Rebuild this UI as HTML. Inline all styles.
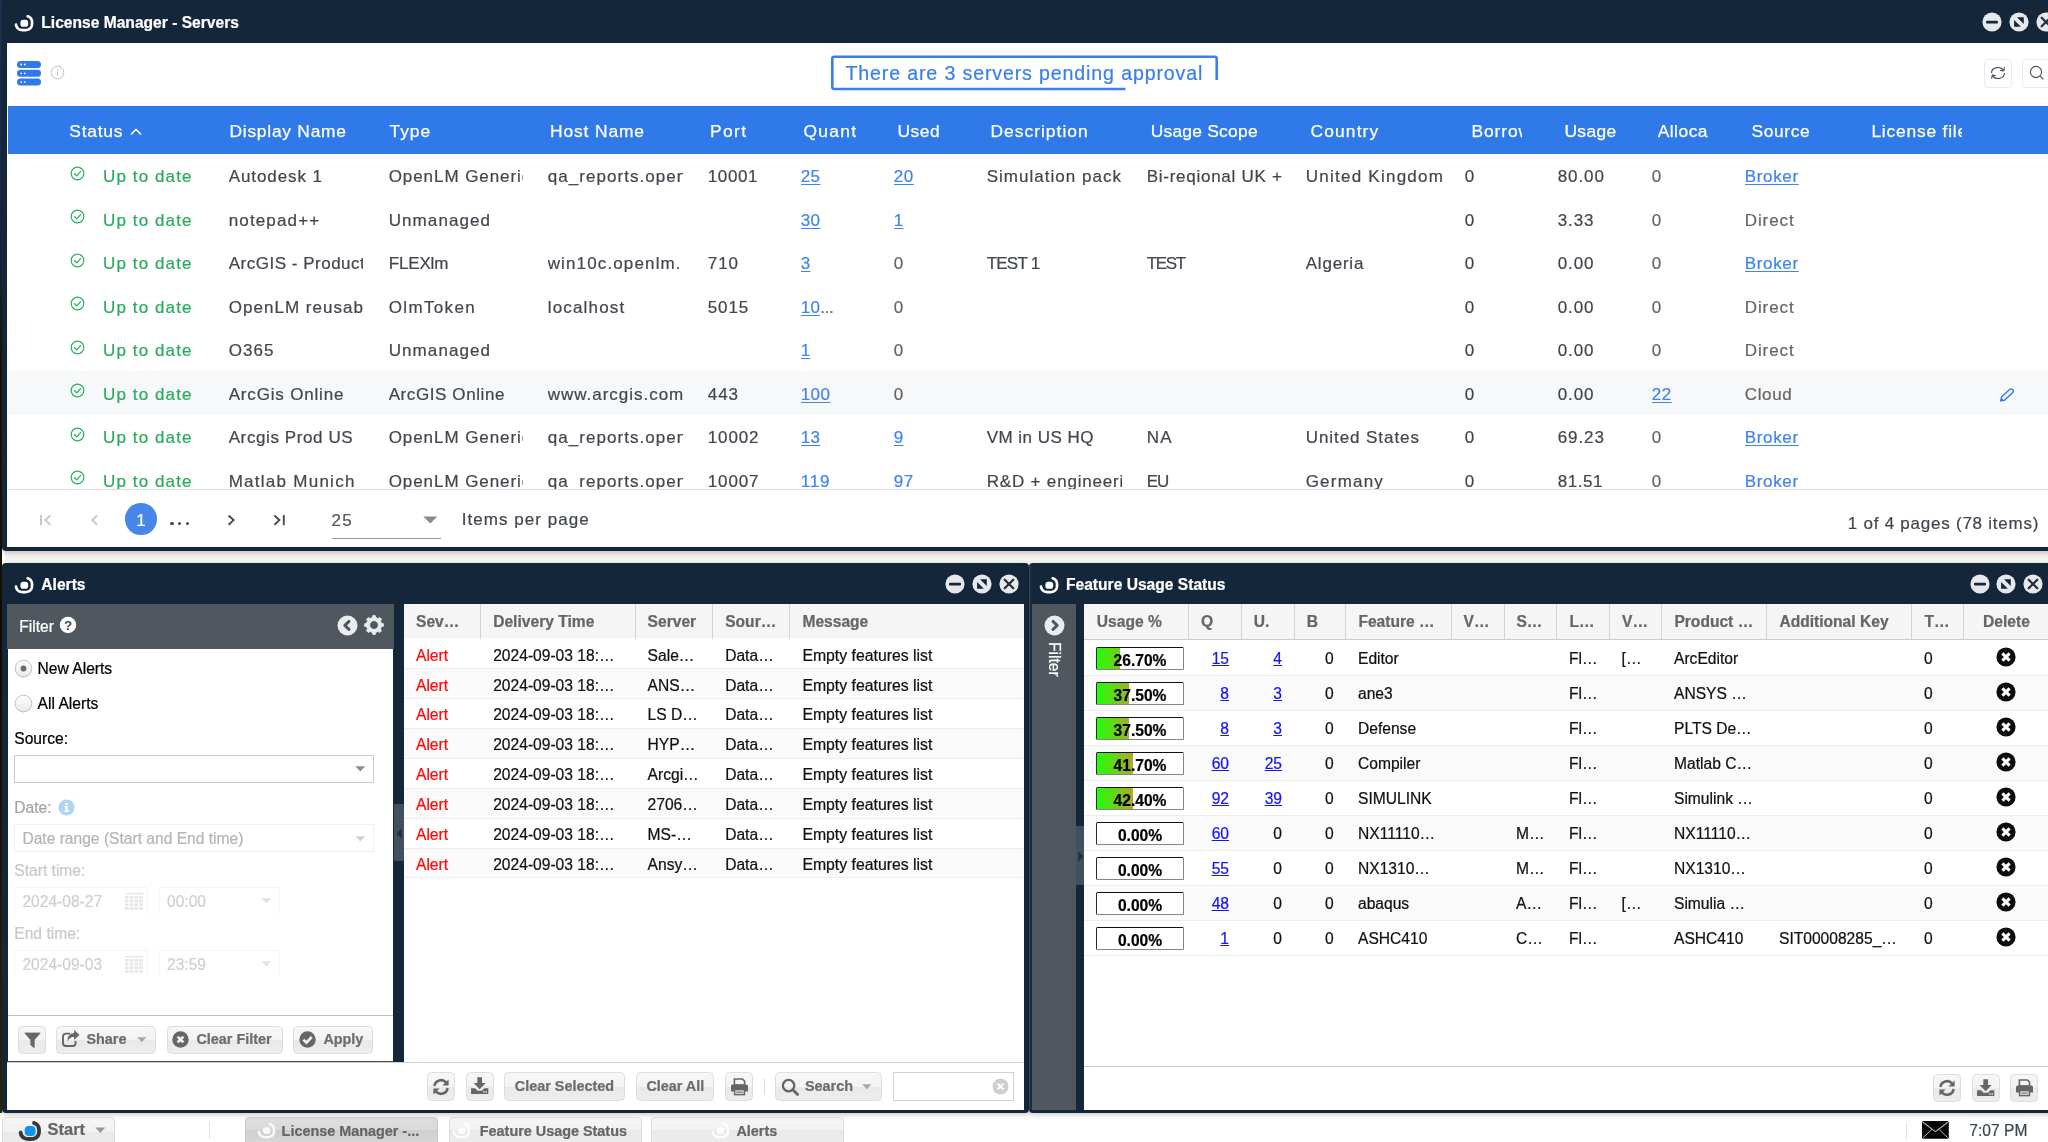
<!DOCTYPE html>
<html><head><meta charset="utf-8"><title>OpenLM</title>
<style>
html,body{margin:0;padding:0;overflow:hidden;}
body{width:2048px;height:1142px;overflow:hidden;position:relative;background:#f4f2ee;font-family:"Liberation Sans",sans-serif;}
div,span.t,svg{position:absolute;box-sizing:border-box;}
span.t{white-space:pre;-webkit-text-stroke:0.22px;}
a.l{text-decoration:underline;}
.btn{border:1px solid #dedede;border-radius:4.5px;background:linear-gradient(#f7f7f7 0%,#f3f3f3 50%,#e9e9e9 51%,#ededed 100%);}
#root{left:0;top:0;width:2048px;height:1142px;overflow:hidden;will-change:transform;}
</style></head><body><div id="root">

<div style="left:0px;top:0px;width:2.4px;height:1142px;background:linear-gradient(#1d3457 0%,#17263c 22%,#1a1404 32%,#120d02 60%,#231f06 85%,#2c2c0a 100%);"></div>
<div style="left:2px;top:548px;width:3px;height:16px;background:#fff;"></div>
<div style="left:0px;top:1112.9px;width:2048px;height:30px;background:#fff;"></div>
<div style="left:2px;top:-6px;width:2060px;height:557px;background:#13263a;border-radius:4px;box-shadow:0 2px 5px rgba(0,0,0,.2);"></div>
<div style="left:7px;top:43px;width:2050px;height:504px;background:#fff;"></div>
<div style="left:2px;top:562.5px;width:1026.5px;height:550.4px;background:#13263a;border-radius:4px;box-shadow:0 2px 5px rgba(0,0,0,.2);"></div>
<div style="left:1029px;top:562.5px;width:1040px;height:550.4px;background:#13263a;border-radius:4px;box-shadow:0 2px 5px rgba(0,0,0,.2);"></div>
<div style="left:1029px;top:566px;width:4px;height:544px;background:linear-gradient(90deg,#33414f 0,#33414f 1px,#1c2e41 1.5px,#13263a 4px);"></div>
<svg style="left:12.0px;top:10.600000000000001px;" width="24.0" height="24.0" viewBox="-12.0 -12.0 24.0 24.0"><path d="M -7.99 1.48 L -7.86 2.30 L -7.66 3.03 L -7.39 3.70 L -7.06 4.30 L -6.65 4.85 L -6.19 5.34 L -5.65 5.78 L -5.06 6.15 L -4.40 6.47 L -3.67 6.73 L -2.87 6.93 L -1.98 7.06 L -0.96 7.14 L 0.55 7.15 L 1.66 7.09 L 2.59 6.98 L 3.41 6.80 L 4.16 6.56 L 4.84 6.27 L 5.46 5.91 L 6.01 5.49 L 6.50 5.02 L 6.93 4.49 L 7.29 3.90 L 7.58 3.26 L 7.80 2.55 L 7.95 1.76 L 8.03 0.85 L 8.05 -0.49 L 7.99 -1.48 L 7.86 -2.30 L 7.66 -3.03 L 7.39 -3.70 L 7.06 -4.30 L 6.65 -4.85 L 6.19 -5.34 L 5.65 -5.78 L 5.06 -6.15 L 4.40 -6.47 L 3.67 -6.73" fill="none" stroke="#fff" stroke-width="2.65" stroke-linecap="round" stroke-linejoin="round"/><rect x="-3.60" y="-3.30" width="7.80" height="7.10" rx="2.90" fill="#fff"/></svg>
<span class="t" style="left:41.3px;top:15.00px;font-size:15.6px;line-height:15.6px;color:#fff;font-weight:700;">License Manager - Servers</span>
<svg style="left:1981.3px;top:11.399999999999999px;" width="22" height="22" viewBox="-11 -11 22 22"><circle cx="0" cy="0" r="9.6" fill="#e6e8eb"/><rect x="-6" y="-1.2" width="12" height="2.6" rx="1" fill="#13263a"/></svg>
<svg style="left:2008px;top:11.399999999999999px;" width="22" height="22" viewBox="-11 -11 22 22"><circle cx="0" cy="0" r="9.6" fill="#e6e8eb"/><path d="M -2.0 -4.7 L 4.8 -4.7 L 4.8 2.1 Z M -4.9 -1.9 L -4.9 4.8 L 1.9 4.8 Z" fill="#13263a" /></svg>
<svg style="left:2034.7px;top:11.399999999999999px;" width="22" height="22" viewBox="-11 -11 22 22"><circle cx="0" cy="0" r="9.6" fill="#e6e8eb"/><path d="M -4.3 -4.3 L 4.3 4.3 M 4.3 -4.3 L -4.3 4.3" stroke="#1d2f43" stroke-width="2.25" stroke-linecap="round"/></svg>
<svg style="left:17px;top:61px;" width="24" height="25" viewBox="0 0 24 25"><rect x="0" y="0" width="24" height="7" rx="3.5" fill="#2f7ae8"/><circle cx="4.2" cy="3.5" r="0.9" fill="#fff"/><circle cx="7.8" cy="3.5" r="0.9" fill="#fff"/><rect x="0" y="8.8" width="24" height="7" rx="3.5" fill="#2f7ae8"/><circle cx="4.2" cy="12.3" r="0.9" fill="#fff"/><circle cx="7.8" cy="12.3" r="0.9" fill="#fff"/><rect x="0" y="17.6" width="24" height="7" rx="3.5" fill="#2f7ae8"/><circle cx="4.2" cy="21.1" r="0.9" fill="#fff"/><circle cx="7.8" cy="21.1" r="0.9" fill="#fff"/></svg>
<svg style="left:50px;top:65px;" width="15" height="15" viewBox="0 0 15 15"><circle cx="7.5" cy="7.5" r="6.3" fill="none" stroke="#b5bac2" stroke-width="0.9"/><rect x="7" y="6.6" width="1" height="4" fill="#b5bac2"/><rect x="7" y="4.4" width="1" height="1.2" fill="#b5bac2"/></svg>
<svg style="left:828px;top:52px;" width="394" height="42" viewBox="0 0 394 42"><path d="M 297.5 37.0 L 6.3 37.0 Q 4.3 37.0 4.3 35.0 L 4.3 6.8 Q 4.3 4.8 6.3 4.8 L 386.7 4.8 Q 388.7 4.8 388.7 6.8 L 388.7 28" fill="none" stroke="#3a80e8" stroke-width="2.6"/></svg>
<span class="t" style="left:845.4px;top:64.00px;font-size:19.6px;line-height:19.6px;color:#3a80e8;letter-spacing:0.863px;">There are 3 servers pending approval</span>
<div style="left:1983.8px;top:59.2px;width:28.6px;height:28.6px;border:1px solid #e4ecf7;border-radius:4px;background:#fff;"></div>
<svg style="left:1990px;top:65px;" width="16" height="16" viewBox="0 0 16 16"><g fill="none" stroke="#4a4f57" stroke-width="1.1" stroke-linecap="round" stroke-linejoin="round"><path d="M 1.6 7.4 A 6.2 5 0 0 1 13.4 5.4"/><path d="M 14.3 2.6 L 13.8 5.9 L 10.4 5.5"/><path d="M 14.4 8.6 A 6.2 5 0 0 1 2.6 10.6"/><path d="M 1.7 13.4 L 2.2 10.1 L 5.6 10.5"/></g></svg>
<div style="left:2022.3px;top:59.2px;width:40px;height:28.6px;border:1px solid #e4ecf7;border-radius:4px;background:#fff;"></div>
<svg style="left:2028px;top:64px;" width="18" height="18" viewBox="0 0 18 18"><g fill="none" stroke="#4a4f57" stroke-width="1.1" stroke-linecap="round"><circle cx="8" cy="8" r="5.6"/><path d="M 12.2 12.2 L 15 15"/></g></svg>
<div style="left:8px;top:105.7px;width:2050px;height:47.9px;background:#2f7ae8;"></div>
<span class="t" style="left:69.3px;top:123.00px;font-size:17.4px;line-height:17.4px;color:#fff;letter-spacing:0.778px;-webkit-text-stroke:0.25px #fff;">Status</span>
<span class="t" style="left:229.5px;top:123.00px;font-size:17.4px;line-height:17.4px;color:#fff;letter-spacing:0.75px;-webkit-text-stroke:0.25px #fff;">Display Name</span>
<span class="t" style="left:389.5px;top:123.00px;font-size:17.4px;line-height:17.4px;color:#fff;letter-spacing:0.967px;-webkit-text-stroke:0.25px #fff;">Type</span>
<span class="t" style="left:550.1px;top:123.00px;font-size:17.4px;line-height:17.4px;color:#fff;letter-spacing:0.865px;-webkit-text-stroke:0.25px #fff;">Host Name</span>
<span class="t" style="left:710.1px;top:123.00px;font-size:17.4px;line-height:17.4px;color:#fff;letter-spacing:1.333px;-webkit-text-stroke:0.25px #fff;">Port</span>
<span class="t" style="left:803.4000000000001px;top:123.00px;font-size:17.4px;line-height:17.4px;color:#fff;letter-spacing:1.307px;width:52.3px;overflow:hidden;-webkit-text-stroke:0.25px #fff;height:22px;">Quantity</span>
<span class="t" style="left:897.4000000000001px;top:123.00px;font-size:17.4px;line-height:17.4px;color:#fff;letter-spacing:0.565px;-webkit-text-stroke:0.25px #fff;">Used</span>
<span class="t" style="left:990.4000000000001px;top:123.00px;font-size:17.4px;line-height:17.4px;color:#fff;letter-spacing:1.03px;-webkit-text-stroke:0.25px #fff;">Description</span>
<span class="t" style="left:1150.7px;top:123.00px;font-size:17.4px;line-height:17.4px;color:#fff;letter-spacing:0.248px;-webkit-text-stroke:0.25px #fff;">Usage Scope</span>
<span class="t" style="left:1310.6000000000001px;top:123.00px;font-size:17.4px;line-height:17.4px;color:#fff;letter-spacing:1.116px;-webkit-text-stroke:0.25px #fff;">Country</span>
<span class="t" style="left:1471.4px;top:123.00px;font-size:17.4px;line-height:17.4px;color:#fff;letter-spacing:0.918px;width:51px;overflow:hidden;-webkit-text-stroke:0.25px #fff;height:22px;">Borrowed</span>
<span class="t" style="left:1564.4px;top:123.00px;font-size:17.4px;line-height:17.4px;color:#fff;letter-spacing:0.406px;-webkit-text-stroke:0.25px #fff;">Usage</span>
<span class="t" style="left:1657.7px;top:123.00px;font-size:17.4px;line-height:17.4px;color:#fff;letter-spacing:0.486px;width:50.5px;overflow:hidden;-webkit-text-stroke:0.25px #fff;height:22px;">Allocated</span>
<span class="t" style="left:1751.4px;top:123.00px;font-size:17.4px;line-height:17.4px;color:#fff;letter-spacing:0.639px;-webkit-text-stroke:0.25px #fff;">Source</span>
<span class="t" style="left:1871.4px;top:123.00px;font-size:17.4px;line-height:17.4px;color:#fff;letter-spacing:0.796px;width:90.3px;overflow:hidden;-webkit-text-stroke:0.25px #fff;height:22px;">License file</span>
<svg style="left:130px;top:127px;" width="12" height="9" viewBox="0 0 12 9"><path d="M 1.5 7 L 6 2.3 L 10.5 7" fill="none" stroke="#fff" stroke-width="1.6" stroke-linecap="round" stroke-linejoin="round"/></svg>
<div style="left:8px;top:153px;width:2044px;height:336px;overflow:hidden;">
<svg style="left:62px;top:12.799999999999999px;" width="15" height="15" viewBox="0 0 15 15"><circle cx="7.5" cy="7.5" r="6.3" fill="none" stroke="#2bb061" stroke-width="1.2"/><path d="M 4.6 7.7 L 6.8 9.9 L 10.5 5.6" fill="none" stroke="#2bb061" stroke-width="1.3" stroke-linecap="round" stroke-linejoin="round"/></svg>
<span class="t" style="left:95.0px;top:15.00px;font-size:17px;line-height:17px;color:#2bab5e;letter-spacing:1.114px;">Up to date</span>
<span class="t" style="left:220.7px;top:15.00px;font-size:17px;line-height:17px;color:#42474f;letter-spacing:0.913px;width:134.5px;overflow:hidden;height:24px;">Autodesk 1</span>
<span class="t" style="left:380.7px;top:15.00px;font-size:17px;line-height:17px;color:#42474f;letter-spacing:0.935px;width:134.5px;overflow:hidden;height:24px;">OpenLM Generic</span>
<span class="t" style="left:539.7px;top:15.00px;font-size:17px;line-height:17px;color:#42474f;letter-spacing:1.053px;width:135px;overflow:hidden;height:24px;">qa_reports.openlm</span>
<span class="t" style="left:699.7px;top:15.00px;font-size:17px;line-height:17px;color:#42474f;letter-spacing:0.648px;width:70px;overflow:hidden;height:24px;">10001</span>
<span class="t" style="left:792.7px;top:15.00px;font-size:17px;line-height:17px;color:#4284ee;letter-spacing:0.439px;width:70px;overflow:hidden;text-decoration:underline;text-decoration-thickness:1.4px;text-underline-offset:1.9px;height:24px;">25</span>
<span class="t" style="left:885.7px;top:15.00px;font-size:17px;line-height:17px;color:#4284ee;letter-spacing:0.639px;width:70px;overflow:hidden;text-decoration:underline;text-decoration-thickness:1.4px;text-underline-offset:1.9px;height:24px;">20</span>
<span class="t" style="left:978.7px;top:15.00px;font-size:17px;line-height:17px;color:#42474f;letter-spacing:1.019px;width:135px;overflow:hidden;height:24px;">Simulation pack</span>
<span class="t" style="left:1138.7px;top:15.00px;font-size:17px;line-height:17px;color:#42474f;letter-spacing:0.734px;width:136px;overflow:hidden;height:24px;">Bi-reqional UK +</span>
<span class="t" style="left:1297.7px;top:15.00px;font-size:17px;line-height:17px;color:#42474f;letter-spacing:1.254px;width:140px;overflow:hidden;height:24px;">United Kingdom</span>
<span class="t" style="left:1456.7px;top:15.00px;font-size:17px;line-height:17px;color:#42474f;letter-spacing:0.3px;width:70px;overflow:hidden;height:24px;">0</span>
<span class="t" style="left:1549.7px;top:15.00px;font-size:17px;line-height:17px;color:#42474f;letter-spacing:0.907px;width:70px;overflow:hidden;height:24px;">80.00</span>
<span class="t" style="left:1643.7px;top:15.00px;font-size:17px;line-height:17px;color:#666;letter-spacing:0.3px;width:70px;overflow:hidden;height:24px;">0</span>
<span class="t" style="left:1736.7px;top:15.00px;font-size:17px;line-height:17px;color:#4284ee;letter-spacing:0.67px;width:100px;overflow:hidden;text-decoration:underline;text-decoration-thickness:1.4px;text-underline-offset:1.9px;height:24px;">Broker</span>
<svg style="left:62px;top:56.3px;" width="15" height="15" viewBox="0 0 15 15"><circle cx="7.5" cy="7.5" r="6.3" fill="none" stroke="#2bb061" stroke-width="1.2"/><path d="M 4.6 7.7 L 6.8 9.9 L 10.5 5.6" fill="none" stroke="#2bb061" stroke-width="1.3" stroke-linecap="round" stroke-linejoin="round"/></svg>
<span class="t" style="left:95.0px;top:59.00px;font-size:17px;line-height:17px;color:#2bab5e;letter-spacing:1.114px;">Up to date</span>
<span class="t" style="left:220.7px;top:59.00px;font-size:17px;line-height:17px;color:#42474f;letter-spacing:1.145px;width:134.5px;overflow:hidden;height:24px;">notepad++</span>
<span class="t" style="left:380.7px;top:59.00px;font-size:17px;line-height:17px;color:#42474f;letter-spacing:1.094px;width:134.5px;overflow:hidden;height:24px;">Unmanaged</span>
<span class="t" style="left:792.7px;top:59.00px;font-size:17px;line-height:17px;color:#4284ee;letter-spacing:0.439px;width:70px;overflow:hidden;text-decoration:underline;text-decoration-thickness:1.4px;text-underline-offset:1.9px;height:24px;">30</span>
<span class="t" style="left:885.7px;top:59.00px;font-size:17px;line-height:17px;color:#4284ee;letter-spacing:0.3px;width:70px;overflow:hidden;text-decoration:underline;text-decoration-thickness:1.4px;text-underline-offset:1.9px;height:24px;">1</span>
<span class="t" style="left:1456.7px;top:59.00px;font-size:17px;line-height:17px;color:#42474f;letter-spacing:0.3px;width:70px;overflow:hidden;height:24px;">0</span>
<span class="t" style="left:1549.7px;top:59.00px;font-size:17px;line-height:17px;color:#42474f;letter-spacing:0.894px;width:70px;overflow:hidden;height:24px;">3.33</span>
<span class="t" style="left:1643.7px;top:59.00px;font-size:17px;line-height:17px;color:#666;letter-spacing:0.3px;width:70px;overflow:hidden;height:24px;">0</span>
<span class="t" style="left:1736.7px;top:59.00px;font-size:17px;line-height:17px;color:#666;letter-spacing:0.914px;width:100px;overflow:hidden;height:24px;">Direct</span>
<svg style="left:62px;top:99.8px;" width="15" height="15" viewBox="0 0 15 15"><circle cx="7.5" cy="7.5" r="6.3" fill="none" stroke="#2bb061" stroke-width="1.2"/><path d="M 4.6 7.7 L 6.8 9.9 L 10.5 5.6" fill="none" stroke="#2bb061" stroke-width="1.3" stroke-linecap="round" stroke-linejoin="round"/></svg>
<span class="t" style="left:95.0px;top:102.00px;font-size:17px;line-height:17px;color:#2bab5e;letter-spacing:1.114px;">Up to date</span>
<span class="t" style="left:220.7px;top:102.00px;font-size:17px;line-height:17px;color:#42474f;letter-spacing:0.508px;width:134.5px;overflow:hidden;height:24px;">ArcGIS - Production</span>
<span class="t" style="left:380.7px;top:102.00px;font-size:17px;line-height:17px;color:#42474f;letter-spacing:-0.159px;width:134.5px;overflow:hidden;height:24px;">FLEXlm</span>
<span class="t" style="left:539.7px;top:102.00px;font-size:17px;line-height:17px;color:#42474f;letter-spacing:1.135px;width:135px;overflow:hidden;height:24px;">win10c.openlm.</span>
<span class="t" style="left:699.7px;top:102.00px;font-size:17px;line-height:17px;color:#42474f;letter-spacing:1.0px;width:70px;overflow:hidden;height:24px;">710</span>
<span class="t" style="left:792.7px;top:102.00px;font-size:17px;line-height:17px;color:#4284ee;letter-spacing:0.3px;width:70px;overflow:hidden;text-decoration:underline;text-decoration-thickness:1.4px;text-underline-offset:1.9px;height:24px;">3</span>
<span class="t" style="left:885.7px;top:102.00px;font-size:17px;line-height:17px;color:#666;letter-spacing:0.3px;width:70px;overflow:hidden;height:24px;">0</span>
<span class="t" style="left:978.7px;top:102.00px;font-size:17px;line-height:17px;color:#42474f;letter-spacing:-0.771px;width:135px;overflow:hidden;height:24px;">TEST 1</span>
<span class="t" style="left:1138.7px;top:102.00px;font-size:17px;line-height:17px;color:#42474f;letter-spacing:-1.293px;width:136px;overflow:hidden;height:24px;">TEST</span>
<span class="t" style="left:1297.7px;top:102.00px;font-size:17px;line-height:17px;color:#42474f;letter-spacing:0.792px;width:140px;overflow:hidden;height:24px;">Algeria</span>
<span class="t" style="left:1456.7px;top:102.00px;font-size:17px;line-height:17px;color:#42474f;letter-spacing:0.3px;width:70px;overflow:hidden;height:24px;">0</span>
<span class="t" style="left:1549.7px;top:102.00px;font-size:17px;line-height:17px;color:#42474f;letter-spacing:0.894px;width:70px;overflow:hidden;height:24px;">0.00</span>
<span class="t" style="left:1643.7px;top:102.00px;font-size:17px;line-height:17px;color:#666;letter-spacing:0.3px;width:70px;overflow:hidden;height:24px;">0</span>
<span class="t" style="left:1736.7px;top:102.00px;font-size:17px;line-height:17px;color:#4284ee;letter-spacing:0.67px;width:100px;overflow:hidden;text-decoration:underline;text-decoration-thickness:1.4px;text-underline-offset:1.9px;height:24px;">Broker</span>
<svg style="left:62px;top:143.29999999999998px;" width="15" height="15" viewBox="0 0 15 15"><circle cx="7.5" cy="7.5" r="6.3" fill="none" stroke="#2bb061" stroke-width="1.2"/><path d="M 4.6 7.7 L 6.8 9.9 L 10.5 5.6" fill="none" stroke="#2bb061" stroke-width="1.3" stroke-linecap="round" stroke-linejoin="round"/></svg>
<span class="t" style="left:95.0px;top:146.00px;font-size:17px;line-height:17px;color:#2bab5e;letter-spacing:1.114px;">Up to date</span>
<span class="t" style="left:220.7px;top:146.00px;font-size:17px;line-height:17px;color:#42474f;letter-spacing:1.031px;width:134.5px;overflow:hidden;height:24px;">OpenLM reusab</span>
<span class="t" style="left:380.7px;top:146.00px;font-size:17px;line-height:17px;color:#42474f;letter-spacing:1.349px;width:134.5px;overflow:hidden;height:24px;">OlmToken</span>
<span class="t" style="left:539.7px;top:146.00px;font-size:17px;line-height:17px;color:#42474f;letter-spacing:1.171px;width:135px;overflow:hidden;height:24px;">localhost</span>
<span class="t" style="left:699.7px;top:146.00px;font-size:17px;line-height:17px;color:#42474f;letter-spacing:0.916px;width:70px;overflow:hidden;height:24px;">5015</span>
<span class="t" style="left:792.7px;top:146.00px;font-size:17px;line-height:17px;color:#666;letter-spacing:0.3px;"><span style="color:#4284ee;text-decoration:underline;text-decoration-thickness:1.4px;text-underline-offset:1.9px">10</span><span style="letter-spacing:-0.3px">...</span></span>
<span class="t" style="left:885.7px;top:146.00px;font-size:17px;line-height:17px;color:#666;letter-spacing:0.3px;width:70px;overflow:hidden;height:24px;">0</span>
<span class="t" style="left:1456.7px;top:146.00px;font-size:17px;line-height:17px;color:#42474f;letter-spacing:0.3px;width:70px;overflow:hidden;height:24px;">0</span>
<span class="t" style="left:1549.7px;top:146.00px;font-size:17px;line-height:17px;color:#42474f;letter-spacing:0.894px;width:70px;overflow:hidden;height:24px;">0.00</span>
<span class="t" style="left:1643.7px;top:146.00px;font-size:17px;line-height:17px;color:#666;letter-spacing:0.3px;width:70px;overflow:hidden;height:24px;">0</span>
<span class="t" style="left:1736.7px;top:146.00px;font-size:17px;line-height:17px;color:#666;letter-spacing:0.914px;width:100px;overflow:hidden;height:24px;">Direct</span>
<svg style="left:62px;top:186.79999999999998px;" width="15" height="15" viewBox="0 0 15 15"><circle cx="7.5" cy="7.5" r="6.3" fill="none" stroke="#2bb061" stroke-width="1.2"/><path d="M 4.6 7.7 L 6.8 9.9 L 10.5 5.6" fill="none" stroke="#2bb061" stroke-width="1.3" stroke-linecap="round" stroke-linejoin="round"/></svg>
<span class="t" style="left:95.0px;top:189.00px;font-size:17px;line-height:17px;color:#2bab5e;letter-spacing:1.114px;">Up to date</span>
<span class="t" style="left:220.7px;top:189.00px;font-size:17px;line-height:17px;color:#42474f;letter-spacing:1.027px;width:134.5px;overflow:hidden;height:24px;">O365</span>
<span class="t" style="left:380.7px;top:189.00px;font-size:17px;line-height:17px;color:#42474f;letter-spacing:1.094px;width:134.5px;overflow:hidden;height:24px;">Unmanaged</span>
<span class="t" style="left:792.7px;top:189.00px;font-size:17px;line-height:17px;color:#4284ee;letter-spacing:0.3px;width:70px;overflow:hidden;text-decoration:underline;text-decoration-thickness:1.4px;text-underline-offset:1.9px;height:24px;">1</span>
<span class="t" style="left:885.7px;top:189.00px;font-size:17px;line-height:17px;color:#666;letter-spacing:0.3px;width:70px;overflow:hidden;height:24px;">0</span>
<span class="t" style="left:1456.7px;top:189.00px;font-size:17px;line-height:17px;color:#42474f;letter-spacing:0.3px;width:70px;overflow:hidden;height:24px;">0</span>
<span class="t" style="left:1549.7px;top:189.00px;font-size:17px;line-height:17px;color:#42474f;letter-spacing:0.894px;width:70px;overflow:hidden;height:24px;">0.00</span>
<span class="t" style="left:1643.7px;top:189.00px;font-size:17px;line-height:17px;color:#666;letter-spacing:0.3px;width:70px;overflow:hidden;height:24px;">0</span>
<span class="t" style="left:1736.7px;top:189.00px;font-size:17px;line-height:17px;color:#666;letter-spacing:0.914px;width:100px;overflow:hidden;height:24px;">Direct</span>
<div style="left:0px;top:218.1px;width:2044px;height:43.5px;background:#f7f8fa;"></div>
<svg style="left:62px;top:230.29999999999998px;" width="15" height="15" viewBox="0 0 15 15"><circle cx="7.5" cy="7.5" r="6.3" fill="none" stroke="#2bb061" stroke-width="1.2"/><path d="M 4.6 7.7 L 6.8 9.9 L 10.5 5.6" fill="none" stroke="#2bb061" stroke-width="1.3" stroke-linecap="round" stroke-linejoin="round"/></svg>
<span class="t" style="left:95.0px;top:233.00px;font-size:17px;line-height:17px;color:#2bab5e;letter-spacing:1.114px;">Up to date</span>
<span class="t" style="left:220.7px;top:233.00px;font-size:17px;line-height:17px;color:#42474f;letter-spacing:0.825px;width:134.5px;overflow:hidden;height:24px;">ArcGis Online</span>
<span class="t" style="left:380.7px;top:233.00px;font-size:17px;line-height:17px;color:#42474f;letter-spacing:0.593px;width:134.5px;overflow:hidden;height:24px;">ArcGIS Online</span>
<span class="t" style="left:539.7px;top:233.00px;font-size:17px;line-height:17px;color:#42474f;letter-spacing:0.982px;width:135px;overflow:hidden;height:24px;">www.arcgis.com</span>
<span class="t" style="left:699.7px;top:233.00px;font-size:17px;line-height:17px;color:#42474f;letter-spacing:1.0px;width:70px;overflow:hidden;height:24px;">443</span>
<span class="t" style="left:792.7px;top:233.00px;font-size:17px;line-height:17px;color:#4284ee;letter-spacing:0.442px;width:70px;overflow:hidden;text-decoration:underline;text-decoration-thickness:1.4px;text-underline-offset:1.9px;height:24px;">100</span>
<span class="t" style="left:885.7px;top:233.00px;font-size:17px;line-height:17px;color:#666;letter-spacing:0.3px;width:70px;overflow:hidden;height:24px;">0</span>
<span class="t" style="left:1456.7px;top:233.00px;font-size:17px;line-height:17px;color:#42474f;letter-spacing:0.3px;width:70px;overflow:hidden;height:24px;">0</span>
<span class="t" style="left:1549.7px;top:233.00px;font-size:17px;line-height:17px;color:#42474f;letter-spacing:0.894px;width:70px;overflow:hidden;height:24px;">0.00</span>
<span class="t" style="left:1643.7px;top:233.00px;font-size:17px;line-height:17px;color:#4284ee;letter-spacing:0.539px;width:70px;overflow:hidden;text-decoration:underline;text-decoration-thickness:1.4px;text-underline-offset:1.9px;height:24px;">22</span>
<span class="t" style="left:1736.7px;top:233.00px;font-size:17px;line-height:17px;color:#666;letter-spacing:0.663px;width:100px;overflow:hidden;height:24px;">Cloud</span>
<svg style="left:1989px;top:232.29999999999998px;" width="20" height="20" viewBox="-10 -10 20 20"><g transform="rotate(-43)"><path d="M -5.4 -2.2 H 5.6 A 2.2 2.2 0 0 1 5.6 2.2 H -5.4 L -8.6 0 Z" fill="none" stroke="#2f76e6" stroke-width="1.35" stroke-linejoin="round"/><path d="M -5.9 -1.9 L -8.9 0 L -5.9 1.9 Z" fill="#2f76e6"/></g></svg>
<svg style="left:62px;top:273.8px;" width="15" height="15" viewBox="0 0 15 15"><circle cx="7.5" cy="7.5" r="6.3" fill="none" stroke="#2bb061" stroke-width="1.2"/><path d="M 4.6 7.7 L 6.8 9.9 L 10.5 5.6" fill="none" stroke="#2bb061" stroke-width="1.3" stroke-linecap="round" stroke-linejoin="round"/></svg>
<span class="t" style="left:95.0px;top:276.00px;font-size:17px;line-height:17px;color:#2bab5e;letter-spacing:1.114px;">Up to date</span>
<span class="t" style="left:220.7px;top:276.00px;font-size:17px;line-height:17px;color:#42474f;letter-spacing:0.598px;width:134.5px;overflow:hidden;height:24px;">Arcgis Prod US</span>
<span class="t" style="left:380.7px;top:276.00px;font-size:17px;line-height:17px;color:#42474f;letter-spacing:0.935px;width:134.5px;overflow:hidden;height:24px;">OpenLM Generic</span>
<span class="t" style="left:539.7px;top:276.00px;font-size:17px;line-height:17px;color:#42474f;letter-spacing:1.053px;width:135px;overflow:hidden;height:24px;">qa_reports.openlm</span>
<span class="t" style="left:699.7px;top:276.00px;font-size:17px;line-height:17px;color:#42474f;letter-spacing:0.898px;width:70px;overflow:hidden;height:24px;">10002</span>
<span class="t" style="left:792.7px;top:276.00px;font-size:17px;line-height:17px;color:#4284ee;letter-spacing:0.439px;width:70px;overflow:hidden;text-decoration:underline;text-decoration-thickness:1.4px;text-underline-offset:1.9px;height:24px;">13</span>
<span class="t" style="left:885.7px;top:276.00px;font-size:17px;line-height:17px;color:#4284ee;letter-spacing:0.3px;width:70px;overflow:hidden;text-decoration:underline;text-decoration-thickness:1.4px;text-underline-offset:1.9px;height:24px;">9</span>
<span class="t" style="left:978.7px;top:276.00px;font-size:17px;line-height:17px;color:#42474f;letter-spacing:0.484px;width:135px;overflow:hidden;height:24px;">VM in US HQ</span>
<span class="t" style="left:1138.7px;top:276.00px;font-size:17px;line-height:17px;color:#42474f;letter-spacing:1.25px;width:136px;overflow:hidden;height:24px;">NA</span>
<span class="t" style="left:1297.7px;top:276.00px;font-size:17px;line-height:17px;color:#42474f;letter-spacing:0.934px;width:140px;overflow:hidden;height:24px;">United States</span>
<span class="t" style="left:1456.7px;top:276.00px;font-size:17px;line-height:17px;color:#42474f;letter-spacing:0.3px;width:70px;overflow:hidden;height:24px;">0</span>
<span class="t" style="left:1549.7px;top:276.00px;font-size:17px;line-height:17px;color:#42474f;letter-spacing:0.907px;width:70px;overflow:hidden;height:24px;">69.23</span>
<span class="t" style="left:1643.7px;top:276.00px;font-size:17px;line-height:17px;color:#666;letter-spacing:0.3px;width:70px;overflow:hidden;height:24px;">0</span>
<span class="t" style="left:1736.7px;top:276.00px;font-size:17px;line-height:17px;color:#4284ee;letter-spacing:0.67px;width:100px;overflow:hidden;text-decoration:underline;text-decoration-thickness:1.4px;text-underline-offset:1.9px;height:24px;">Broker</span>
<svg style="left:62px;top:317.3px;" width="15" height="15" viewBox="0 0 15 15"><circle cx="7.5" cy="7.5" r="6.3" fill="none" stroke="#2bb061" stroke-width="1.2"/><path d="M 4.6 7.7 L 6.8 9.9 L 10.5 5.6" fill="none" stroke="#2bb061" stroke-width="1.3" stroke-linecap="round" stroke-linejoin="round"/></svg>
<span class="t" style="left:95.0px;top:320.00px;font-size:17px;line-height:17px;color:#2bab5e;letter-spacing:1.114px;">Up to date</span>
<span class="t" style="left:220.7px;top:320.00px;font-size:17px;line-height:17px;color:#42474f;letter-spacing:1.259px;width:134.5px;overflow:hidden;height:24px;">Matlab Munich</span>
<span class="t" style="left:380.7px;top:320.00px;font-size:17px;line-height:17px;color:#42474f;letter-spacing:0.935px;width:134.5px;overflow:hidden;height:24px;">OpenLM Generic</span>
<span class="t" style="left:539.7px;top:320.00px;font-size:17px;line-height:17px;color:#42474f;letter-spacing:1.053px;width:135px;overflow:hidden;height:24px;">qa_reports.openlm</span>
<span class="t" style="left:699.7px;top:320.00px;font-size:17px;line-height:17px;color:#42474f;letter-spacing:0.898px;width:70px;overflow:hidden;height:24px;">10007</span>
<span class="t" style="left:792.7px;top:320.00px;font-size:17px;line-height:17px;color:#4284ee;letter-spacing:0.864px;width:70px;overflow:hidden;text-decoration:underline;text-decoration-thickness:1.4px;text-underline-offset:1.9px;height:24px;">119</span>
<span class="t" style="left:885.7px;top:320.00px;font-size:17px;line-height:17px;color:#4284ee;letter-spacing:0.639px;width:70px;overflow:hidden;text-decoration:underline;text-decoration-thickness:1.4px;text-underline-offset:1.9px;height:24px;">97</span>
<span class="t" style="left:978.7px;top:320.00px;font-size:17px;line-height:17px;color:#42474f;letter-spacing:0.818px;width:135px;overflow:hidden;height:24px;">R&amp;D + engineering</span>
<span class="t" style="left:1138.7px;top:320.00px;font-size:17px;line-height:17px;color:#42474f;letter-spacing:-1.15px;width:136px;overflow:hidden;height:24px;">EU</span>
<span class="t" style="left:1297.7px;top:320.00px;font-size:17px;line-height:17px;color:#42474f;letter-spacing:1.209px;width:140px;overflow:hidden;height:24px;">Germany</span>
<span class="t" style="left:1456.7px;top:320.00px;font-size:17px;line-height:17px;color:#42474f;letter-spacing:0.3px;width:70px;overflow:hidden;height:24px;">0</span>
<span class="t" style="left:1549.7px;top:320.00px;font-size:17px;line-height:17px;color:#42474f;letter-spacing:0.532px;width:70px;overflow:hidden;height:24px;">81.51</span>
<span class="t" style="left:1643.7px;top:320.00px;font-size:17px;line-height:17px;color:#666;letter-spacing:0.3px;width:70px;overflow:hidden;height:24px;">0</span>
<span class="t" style="left:1736.7px;top:320.00px;font-size:17px;line-height:17px;color:#4284ee;letter-spacing:0.67px;width:100px;overflow:hidden;text-decoration:underline;text-decoration-thickness:1.4px;text-underline-offset:1.9px;height:24px;">Broker</span>
</div>
<div style="left:8px;top:489px;width:2044px;height:1px;background:#dadada;"></div>
<svg style="left:38.4px;top:511.8px;" width="16" height="16" viewBox="0 0 16 16"><path d="M 3 3 L 3 13.2" stroke="#c3c7cc" stroke-width="1.9" fill="none"/><path d="M 12.4 3.5 L 7.4 8.1 L 12.4 12.7" stroke="#c3c7cc" stroke-width="1.9" fill="none"/></svg>
<svg style="left:87px;top:511.8px;" width="16" height="16" viewBox="0 0 16 16"><path d="M 10.2 3.5 L 5.2 8.1 L 10.2 12.7" stroke="#c3c7cc" stroke-width="1.9" fill="none"/></svg>
<div style="left:125.4px;top:503.3px;width:31.5px;height:31.5px;background:#4887ea;border-radius:50%;"></div>
<span class="t" style="left:136.3px;top:512.00px;font-size:17px;line-height:17px;color:#fff;">1</span>
<div style="left:170.2px;top:521.5px;width:3.6px;height:3.6px;background:#444a52;border-radius:50%;"></div>
<div style="left:177.89999999999998px;top:521.5px;width:3.6px;height:3.6px;background:#444a52;border-radius:50%;"></div>
<div style="left:185.6px;top:521.5px;width:3.6px;height:3.6px;background:#444a52;border-radius:50%;"></div>
<svg style="left:223px;top:511.8px;" width="16" height="16" viewBox="0 0 16 16"><path d="M 5.6 3.5 L 10.6 8.1 L 5.6 12.7" stroke="#454a52" stroke-width="1.9" fill="none"/></svg>
<svg style="left:271px;top:511.8px;" width="16" height="16" viewBox="0 0 16 16"><path d="M 3.4 3.5 L 8.4 8.1 L 3.4 12.7" stroke="#454a52" stroke-width="1.9" fill="none"/><path d="M 12.8 3 L 12.8 13.2" stroke="#454a52" stroke-width="1.9" fill="none"/></svg>
<span class="t" style="left:331.6px;top:512.00px;font-size:17px;line-height:17px;color:#555;letter-spacing:1.153px;">25</span>
<div style="left:332px;top:537.6px;width:108.5px;height:1px;background:#9a9a9a;"></div>
<svg style="left:422.5px;top:515.5px;" width="15" height="8" viewBox="0 0 15 8"><path d="M 0.3 0.5 L 14.3 0.5 L 7.3 7.5 Z" fill="#8a8a8a"/></svg>
<span class="t" style="left:461.8px;top:511.00px;font-size:17px;line-height:17px;color:#42474f;letter-spacing:1.036px;">Items per page</span>
<span class="t" style="left:1847.8px;top:515.00px;font-size:17px;line-height:17px;color:#42474f;letter-spacing:0.759px;">1 of 4 pages (78 items)</span>
<svg style="left:12.0px;top:572.6px;" width="24.0" height="24.0" viewBox="-12.0 -12.0 24.0 24.0"><path d="M -7.99 1.48 L -7.86 2.30 L -7.66 3.03 L -7.39 3.70 L -7.06 4.30 L -6.65 4.85 L -6.19 5.34 L -5.65 5.78 L -5.06 6.15 L -4.40 6.47 L -3.67 6.73 L -2.87 6.93 L -1.98 7.06 L -0.96 7.14 L 0.55 7.15 L 1.66 7.09 L 2.59 6.98 L 3.41 6.80 L 4.16 6.56 L 4.84 6.27 L 5.46 5.91 L 6.01 5.49 L 6.50 5.02 L 6.93 4.49 L 7.29 3.90 L 7.58 3.26 L 7.80 2.55 L 7.95 1.76 L 8.03 0.85 L 8.05 -0.49 L 7.99 -1.48 L 7.86 -2.30 L 7.66 -3.03 L 7.39 -3.70 L 7.06 -4.30 L 6.65 -4.85 L 6.19 -5.34 L 5.65 -5.78 L 5.06 -6.15 L 4.40 -6.47 L 3.67 -6.73" fill="none" stroke="#fff" stroke-width="2.65" stroke-linecap="round" stroke-linejoin="round"/><rect x="-3.60" y="-3.30" width="7.80" height="7.10" rx="2.90" fill="#fff"/></svg>
<span class="t" style="left:41.3px;top:577.00px;font-size:15.6px;line-height:15.6px;color:#fff;font-weight:700;">Alerts</span>
<svg style="left:944.3px;top:573.2px;" width="22" height="22" viewBox="-11 -11 22 22"><circle cx="0" cy="0" r="9.6" fill="#e6e8eb"/><rect x="-6" y="-1.2" width="12" height="2.6" rx="1" fill="#13263a"/></svg>
<svg style="left:971.1px;top:573.2px;" width="22" height="22" viewBox="-11 -11 22 22"><circle cx="0" cy="0" r="9.6" fill="#e6e8eb"/><path d="M -2.0 -4.7 L 4.8 -4.7 L 4.8 2.1 Z M -4.9 -1.9 L -4.9 4.8 L 1.9 4.8 Z" fill="#13263a" /></svg>
<svg style="left:997.8px;top:573.2px;" width="22" height="22" viewBox="-11 -11 22 22"><circle cx="0" cy="0" r="9.6" fill="#e6e8eb"/><path d="M -4.3 -4.3 L 4.3 4.3 M 4.3 -4.3 L -4.3 4.3" stroke="#1d2f43" stroke-width="2.25" stroke-linecap="round"/></svg>
<div style="left:7px;top:1062px;width:1017px;height:47.6px;background:#fff;"></div>
<div style="left:7px;top:604px;width:387px;height:457.6px;background:#fff;border:1px solid #13263a;border-top:none;border-bottom-color:#3d4a58;"></div>
<div style="left:7px;top:604px;width:387px;height:44.6px;background:#50575f;"></div>
<span class="t" style="left:19.2px;top:619.00px;font-size:15.6px;line-height:15.6px;color:#fff;">Filter</span>
<svg style="left:59px;top:616px;" width="18" height="18" viewBox="0 0 18 18"><circle cx="9" cy="9" r="8.2" fill="#fff"/><text x="9" y="13.6" font-family="Liberation Sans" font-weight="700" font-size="13.5" text-anchor="middle" fill="#3d4450">?</text></svg>
<svg style="left:337.1px;top:614.7px;" width="21" height="21" viewBox="0 0 21 21"><circle cx="10.5" cy="10.5" r="10" fill="#ebecee"/><path d="M 12.0 6.4 L 7.8 10.4 L 12.0 14.4" fill="none" stroke="#50575f" stroke-width="2.9" stroke-linecap="round" stroke-linejoin="round"/></svg>
<svg style="left:363.2px;top:614.2px;" width="22" height="22" viewBox="0 0 22 22"><path d="M 20.42 9.74 L 20.42 12.26 L 18.40 12.72 L 17.45 15.02 L 18.55 16.76 L 16.76 18.55 L 15.02 17.45 L 12.72 18.40 L 12.26 20.42 L 9.74 20.42 L 9.28 18.40 L 6.98 17.45 L 5.24 18.55 L 3.45 16.76 L 4.55 15.02 L 3.60 12.72 L 1.58 12.26 L 1.58 9.74 L 3.60 9.28 L 4.55 6.98 L 3.45 5.24 L 5.24 3.45 L 6.98 4.55 L 9.28 3.60 L 9.74 1.58 L 12.26 1.58 L 12.72 3.60 L 15.02 4.55 L 16.76 3.45 L 18.55 5.24 L 17.45 6.98 L 18.40 9.28 Z M 15.30 11.00 A 4.3 4.3 0 1 0 6.70 11.00 A 4.3 4.3 0 1 0 15.30 11.00 Z" fill="#ebecee" fill-rule="evenodd" stroke="#ebecee" stroke-width="0.8" stroke-linejoin="round"/></svg>
<svg style="left:13.5px;top:659.1px;" width="19" height="20" viewBox="0 0 19 20"><defs><linearGradient id="rg668" x1="0" y1="0" x2="0" y2="1"><stop offset="0" stop-color="#ffffff"/><stop offset="1" stop-color="#e9e9e9"/></linearGradient></defs><circle cx="9.5" cy="10.1" r="8.4" fill="#dcdcdc"/><circle cx="9.5" cy="9.5" r="8.3" fill="url(#rg668)" stroke="#c4c4c4" stroke-width="1"/><circle cx="9.5" cy="9.5" r="2.9" fill="#6b6b6b"/></svg>
<span class="t" style="left:37.6px;top:661.00px;font-size:15.6px;line-height:15.6px;color:#000;">New Alerts</span>
<svg style="left:13.5px;top:694.1px;" width="19" height="20" viewBox="0 0 19 20"><defs><linearGradient id="rg703" x1="0" y1="0" x2="0" y2="1"><stop offset="0" stop-color="#ffffff"/><stop offset="1" stop-color="#e9e9e9"/></linearGradient></defs><circle cx="9.5" cy="10.1" r="8.4" fill="#dcdcdc"/><circle cx="9.5" cy="9.5" r="8.3" fill="url(#rg703)" stroke="#c4c4c4" stroke-width="1"/></svg>
<span class="t" style="left:37.6px;top:696.00px;font-size:15.6px;line-height:15.6px;color:#000;">All Alerts</span>
<span class="t" style="left:14.3px;top:731.00px;font-size:15.6px;line-height:15.6px;color:#000;">Source:</span>
<div style="left:14px;top:755px;width:360.4px;height:27.6px;border:1px solid #cbcbcb;background:#fff;"></div>
<svg style="left:355px;top:766px;" width="11" height="6" viewBox="0 0 11 6"><path d="M 0.3 0.3 L 10.3 0.3 L 5.3 5.4 Z" fill="#8e8e8e"/></svg>
<span class="t" style="left:14.3px;top:800.00px;font-size:15.6px;line-height:15.6px;color:#a3a3a3;">Date:</span>
<svg style="left:57.5px;top:798.5px;" width="17" height="17" viewBox="0 0 17 17"><circle cx="8.5" cy="8.5" r="8.1" fill="#b4d5f1"/><path d="M 6.6 7.1 H 9.7 V 11.6 H 10.7 V 12.9 H 6.4 V 11.6 H 7.5 V 8.4 H 6.6 Z M 7.4 3.9 H 9.7 V 5.9 H 7.4 Z" fill="#fff"/></svg>
<div style="left:14px;top:824.4px;width:360.4px;height:27.6px;border:1px solid #f0f0f0;background:#fff;"></div>
<span class="t" style="left:22.4px;top:831.00px;font-size:15.6px;line-height:15.6px;color:#b5b5b5;">Date range (Start and End time)</span>
<svg style="left:355px;top:835.5px;" width="11" height="6" viewBox="0 0 11 6"><path d="M 0.3 0.3 L 10.3 0.3 L 5.3 5.4 Z" fill="#d2d2d2"/></svg>
<span class="t" style="left:14.3px;top:863.00px;font-size:15.6px;line-height:15.6px;color:#c9c9c9;">Start time:</span>
<div style="left:14px;top:887px;width:133px;height:27.4px;border:1px solid #f5f5f5;border-bottom:none;background:#fff;"></div>
<span class="t" style="left:22.4px;top:894.00px;font-size:15.6px;line-height:15.6px;color:#cfcfcf;">2024-08-27</span>
<svg style="left:125px;top:893px;" width="18" height="18" viewBox="0 0 18 18"><rect x="0" y="0" width="18" height="1.4" fill="#e6e6e6"/><rect x="0.0" y="3.0" width="3.6" height="2.7" fill="#e6e6e6"/><rect x="4.7" y="3.0" width="3.6" height="2.7" fill="#e6e6e6"/><rect x="9.4" y="3.0" width="3.6" height="2.7" fill="#e6e6e6"/><rect x="14.1" y="3.0" width="3.6" height="2.7" fill="#e6e6e6"/><rect x="0.0" y="6.7" width="3.6" height="2.7" fill="#e6e6e6"/><rect x="4.7" y="6.7" width="3.6" height="2.7" fill="#e6e6e6"/><rect x="9.4" y="6.7" width="3.6" height="2.7" fill="#e6e6e6"/><rect x="14.1" y="6.7" width="3.6" height="2.7" fill="#e6e6e6"/><rect x="0.0" y="10.4" width="3.6" height="2.7" fill="#e6e6e6"/><rect x="4.7" y="10.4" width="3.6" height="2.7" fill="#e6e6e6"/><rect x="9.4" y="10.4" width="3.6" height="2.7" fill="#e6e6e6"/><rect x="14.1" y="10.4" width="3.6" height="2.7" fill="#e6e6e6"/><rect x="0.0" y="14.1" width="3.6" height="2.7" fill="#e6e6e6"/><rect x="4.7" y="14.1" width="3.6" height="2.7" fill="#e6e6e6"/><rect x="9.4" y="14.1" width="3.6" height="2.7" fill="#e6e6e6"/><rect x="14.1" y="14.1" width="3.6" height="2.7" fill="#e6e6e6"/></svg>
<div style="left:159.4px;top:887px;width:120.6px;height:27.4px;border:1px solid #f5f5f5;border-bottom:none;background:#fff;"></div>
<span class="t" style="left:167px;top:894.00px;font-size:15.6px;line-height:15.6px;color:#cfcfcf;">00:00</span>
<svg style="left:261px;top:898px;" width="11" height="6" viewBox="0 0 11 6"><path d="M 0.3 0.3 L 10.3 0.3 L 5.3 5.4 Z" fill="#e2e2e2"/></svg>
<span class="t" style="left:14.3px;top:926.00px;font-size:15.6px;line-height:15.6px;color:#c9c9c9;">End time:</span>
<div style="left:14px;top:950px;width:133px;height:27.4px;border:1px solid #f5f5f5;border-bottom:none;background:#fff;"></div>
<span class="t" style="left:22.4px;top:957.00px;font-size:15.6px;line-height:15.6px;color:#cfcfcf;">2024-09-03</span>
<svg style="left:125px;top:956px;" width="18" height="18" viewBox="0 0 18 18"><rect x="0" y="0" width="18" height="1.4" fill="#e6e6e6"/><rect x="0.0" y="3.0" width="3.6" height="2.7" fill="#e6e6e6"/><rect x="4.7" y="3.0" width="3.6" height="2.7" fill="#e6e6e6"/><rect x="9.4" y="3.0" width="3.6" height="2.7" fill="#e6e6e6"/><rect x="14.1" y="3.0" width="3.6" height="2.7" fill="#e6e6e6"/><rect x="0.0" y="6.7" width="3.6" height="2.7" fill="#e6e6e6"/><rect x="4.7" y="6.7" width="3.6" height="2.7" fill="#e6e6e6"/><rect x="9.4" y="6.7" width="3.6" height="2.7" fill="#e6e6e6"/><rect x="14.1" y="6.7" width="3.6" height="2.7" fill="#e6e6e6"/><rect x="0.0" y="10.4" width="3.6" height="2.7" fill="#e6e6e6"/><rect x="4.7" y="10.4" width="3.6" height="2.7" fill="#e6e6e6"/><rect x="9.4" y="10.4" width="3.6" height="2.7" fill="#e6e6e6"/><rect x="14.1" y="10.4" width="3.6" height="2.7" fill="#e6e6e6"/><rect x="0.0" y="14.1" width="3.6" height="2.7" fill="#e6e6e6"/><rect x="4.7" y="14.1" width="3.6" height="2.7" fill="#e6e6e6"/><rect x="9.4" y="14.1" width="3.6" height="2.7" fill="#e6e6e6"/><rect x="14.1" y="14.1" width="3.6" height="2.7" fill="#e6e6e6"/></svg>
<div style="left:159.4px;top:950px;width:120.6px;height:27.4px;border:1px solid #f5f5f5;border-bottom:none;background:#fff;"></div>
<span class="t" style="left:167px;top:957.00px;font-size:15.6px;line-height:15.6px;color:#cfcfcf;">23:59</span>
<svg style="left:261px;top:961px;" width="11" height="6" viewBox="0 0 11 6"><path d="M 0.3 0.3 L 10.3 0.3 L 5.3 5.4 Z" fill="#e2e2e2"/></svg>
<div style="left:8px;top:1015px;width:385px;height:1px;background:#c2c2c2;"></div>
<div class="btn" style="left:18px;top:1025.6px;width:27.8px;height:28.4px;"></div>
<svg style="left:23.5px;top:1031.5px;" width="17" height="17" viewBox="0 0 17 17"><path d="M 0.8 1 H 16.2 L 10.2 8 V 15.6 L 6.8 13 V 8 Z" fill="#666" stroke="#666" stroke-width="0.8" stroke-linejoin="round"/></svg>
<div class="btn" style="left:56.4px;top:1025.6px;width:99.4px;height:28.4px;"></div>
<svg style="left:60.5px;top:1029px;" width="20" height="19" viewBox="0 0 20 19"><path d="M 8.2 4.6 H 5 Q 2 4.6 2 7.6 V 14 Q 2 17 5 17 H 11.6 Q 14.6 17 14.6 14 V 12.6" fill="none" stroke="#666" stroke-width="1.9" stroke-linecap="round"/><path d="M 13 1 L 18.6 5.9 L 13 10.8 V 7.9 Q 8.4 7.7 6.6 12.4 Q 6 4.4 13 3.9 Z" fill="#666"/></svg>
<span class="t" style="left:86.4px;top:1032.00px;font-size:14.4px;line-height:14.4px;color:#6c6c6c;font-weight:700;">Share</span>
<svg style="left:136.5px;top:1036.5px;" width="10" height="6" viewBox="0 0 10 6"><path d="M 0.2 0.3 L 9.4 0.3 L 4.8 5.2 Z" fill="#a8a8a8"/></svg>
<div class="btn" style="left:167px;top:1025.6px;width:115.6px;height:28.4px;"></div>
<svg style="left:171.5px;top:1030.5px;" width="17" height="17" viewBox="0 0 17 17"><circle cx="8.5" cy="8.5" r="8.2" fill="#666"/><path d="M 5.6 5.6 L 11.4 11.4 M 11.4 5.6 L 5.6 11.4" stroke="#f3f3f3" stroke-width="2.7"/></svg>
<span class="t" style="left:196.4px;top:1032.00px;font-size:14.4px;line-height:14.4px;color:#6c6c6c;font-weight:700;">Clear Filter</span>
<div class="btn" style="left:293px;top:1025.6px;width:80.2px;height:28.4px;"></div>
<svg style="left:298.5px;top:1030.5px;" width="17" height="17" viewBox="0 0 17 17"><circle cx="8.5" cy="8.5" r="8.2" fill="#666"/><path d="M 4.4 8.8 L 7.4 11.6 L 12.7 6" fill="none" stroke="#f3f3f3" stroke-width="2.6"/></svg>
<span class="t" style="left:323.4px;top:1032.00px;font-size:14.4px;line-height:14.4px;color:#6c6c6c;font-weight:700;">Apply</span>
<div style="left:394.4px;top:804px;width:9.4px;height:57px;background:#41505f;"></div>
<svg style="left:396px;top:828px;" width="6" height="11" viewBox="0 0 6 11"><path d="M 5.5 0.5 L 0.8 5.5 L 5.5 10.5 Z" fill="#1c2d40"/></svg>
<div style="left:404px;top:604px;width:620px;height:458px;background:#fff;"></div>
<div style="left:404px;top:604px;width:620px;height:34.4px;background:#f5f5f5;"></div>
<div style="left:480.2px;top:604px;width:1px;height:34.6px;background:#d3d3d3;"></div>
<div style="left:635px;top:604px;width:1px;height:34.6px;background:#d3d3d3;"></div>
<div style="left:712px;top:604px;width:1px;height:34.6px;background:#d3d3d3;"></div>
<div style="left:789.2px;top:604px;width:1px;height:34.6px;background:#d3d3d3;"></div>
<span class="t" style="left:416px;top:614.00px;font-size:15.6px;line-height:15.6px;color:#666;font-weight:700;">Sev…</span>
<span class="t" style="left:493.2px;top:614.00px;font-size:15.6px;line-height:15.6px;color:#666;font-weight:700;">Delivery Time</span>
<span class="t" style="left:647.6px;top:614.00px;font-size:15.6px;line-height:15.6px;color:#666;font-weight:700;">Server</span>
<span class="t" style="left:725.2px;top:614.00px;font-size:15.6px;line-height:15.6px;color:#666;font-weight:700;">Sour…</span>
<span class="t" style="left:802.4px;top:614.00px;font-size:15.6px;line-height:15.6px;color:#666;font-weight:700;">Message</span>
<div style="left:404px;top:638.6px;width:620px;height:29.86px;background:#fff;"></div>
<span class="t" style="left:416px;top:648.00px;font-size:15.6px;line-height:15.6px;color:#ff0a0a;">Alert</span>
<span class="t" style="left:493.2px;top:648.00px;font-size:15.6px;line-height:15.6px;color:#111;">2024-09-03 18:…</span>
<span class="t" style="left:647.6px;top:648.00px;font-size:15.6px;line-height:15.6px;color:#111;">Sale…</span>
<span class="t" style="left:725.2px;top:648.00px;font-size:15.6px;line-height:15.6px;color:#111;">Data…</span>
<span class="t" style="left:802.4px;top:648.00px;font-size:15.8px;line-height:15.8px;color:#111;">Empty features list</span>
<div style="left:404px;top:668.46px;width:620px;height:29.86px;background:#fafafa;border-top:1px solid #ededed;"></div>
<span class="t" style="left:416px;top:678.00px;font-size:15.6px;line-height:15.6px;color:#ff0a0a;">Alert</span>
<span class="t" style="left:493.2px;top:678.00px;font-size:15.6px;line-height:15.6px;color:#111;">2024-09-03 18:…</span>
<span class="t" style="left:647.6px;top:678.00px;font-size:15.6px;line-height:15.6px;color:#111;">ANS…</span>
<span class="t" style="left:725.2px;top:678.00px;font-size:15.6px;line-height:15.6px;color:#111;">Data…</span>
<span class="t" style="left:802.4px;top:678.00px;font-size:15.8px;line-height:15.8px;color:#111;">Empty features list</span>
<div style="left:404px;top:698.32px;width:620px;height:29.86px;background:#fff;border-top:1px solid #ededed;"></div>
<span class="t" style="left:416px;top:707.00px;font-size:15.6px;line-height:15.6px;color:#ff0a0a;">Alert</span>
<span class="t" style="left:493.2px;top:707.00px;font-size:15.6px;line-height:15.6px;color:#111;">2024-09-03 18:…</span>
<span class="t" style="left:647.6px;top:707.00px;font-size:15.6px;line-height:15.6px;color:#111;">LS D…</span>
<span class="t" style="left:725.2px;top:707.00px;font-size:15.6px;line-height:15.6px;color:#111;">Data…</span>
<span class="t" style="left:802.4px;top:707.00px;font-size:15.8px;line-height:15.8px;color:#111;">Empty features list</span>
<div style="left:404px;top:728.1800000000001px;width:620px;height:29.86px;background:#fafafa;border-top:1px solid #ededed;"></div>
<span class="t" style="left:416px;top:737.00px;font-size:15.6px;line-height:15.6px;color:#ff0a0a;">Alert</span>
<span class="t" style="left:493.2px;top:737.00px;font-size:15.6px;line-height:15.6px;color:#111;">2024-09-03 18:…</span>
<span class="t" style="left:647.6px;top:737.00px;font-size:15.6px;line-height:15.6px;color:#111;">HYP…</span>
<span class="t" style="left:725.2px;top:737.00px;font-size:15.6px;line-height:15.6px;color:#111;">Data…</span>
<span class="t" style="left:802.4px;top:737.00px;font-size:15.8px;line-height:15.8px;color:#111;">Empty features list</span>
<div style="left:404px;top:758.04px;width:620px;height:29.86px;background:#fff;border-top:1px solid #ededed;"></div>
<span class="t" style="left:416px;top:767.00px;font-size:15.6px;line-height:15.6px;color:#ff0a0a;">Alert</span>
<span class="t" style="left:493.2px;top:767.00px;font-size:15.6px;line-height:15.6px;color:#111;">2024-09-03 18:…</span>
<span class="t" style="left:647.6px;top:767.00px;font-size:15.6px;line-height:15.6px;color:#111;">Arcgi…</span>
<span class="t" style="left:725.2px;top:767.00px;font-size:15.6px;line-height:15.6px;color:#111;">Data…</span>
<span class="t" style="left:802.4px;top:767.00px;font-size:15.8px;line-height:15.8px;color:#111;">Empty features list</span>
<div style="left:404px;top:787.9000000000001px;width:620px;height:29.86px;background:#fafafa;border-top:1px solid #ededed;"></div>
<span class="t" style="left:416px;top:797.00px;font-size:15.6px;line-height:15.6px;color:#ff0a0a;">Alert</span>
<span class="t" style="left:493.2px;top:797.00px;font-size:15.6px;line-height:15.6px;color:#111;">2024-09-03 18:…</span>
<span class="t" style="left:647.6px;top:797.00px;font-size:15.6px;line-height:15.6px;color:#111;">2706…</span>
<span class="t" style="left:725.2px;top:797.00px;font-size:15.6px;line-height:15.6px;color:#111;">Data…</span>
<span class="t" style="left:802.4px;top:797.00px;font-size:15.8px;line-height:15.8px;color:#111;">Empty features list</span>
<div style="left:404px;top:817.76px;width:620px;height:29.86px;background:#fff;border-top:1px solid #ededed;"></div>
<span class="t" style="left:416px;top:827.00px;font-size:15.6px;line-height:15.6px;color:#ff0a0a;">Alert</span>
<span class="t" style="left:493.2px;top:827.00px;font-size:15.6px;line-height:15.6px;color:#111;">2024-09-03 18:…</span>
<span class="t" style="left:647.6px;top:827.00px;font-size:15.6px;line-height:15.6px;color:#111;">MS-…</span>
<span class="t" style="left:725.2px;top:827.00px;font-size:15.6px;line-height:15.6px;color:#111;">Data…</span>
<span class="t" style="left:802.4px;top:827.00px;font-size:15.8px;line-height:15.8px;color:#111;">Empty features list</span>
<div style="left:404px;top:847.62px;width:620px;height:29.86px;background:#fafafa;border-top:1px solid #ededed;"></div>
<span class="t" style="left:416px;top:857.00px;font-size:15.6px;line-height:15.6px;color:#ff0a0a;">Alert</span>
<span class="t" style="left:493.2px;top:857.00px;font-size:15.6px;line-height:15.6px;color:#111;">2024-09-03 18:…</span>
<span class="t" style="left:647.6px;top:857.00px;font-size:15.6px;line-height:15.6px;color:#111;">Ansy…</span>
<span class="t" style="left:725.2px;top:857.00px;font-size:15.6px;line-height:15.6px;color:#111;">Data…</span>
<span class="t" style="left:802.4px;top:857.00px;font-size:15.8px;line-height:15.8px;color:#111;">Empty features list</span>
<div style="left:404px;top:877.48px;width:620px;height:1px;background:#ededed;"></div>
<div style="left:7px;top:1062px;width:1017px;height:1px;background:#cfcfcf;"></div>
<div class="btn" style="left:427.4px;top:1072.2px;width:27.8px;height:28.4px;"></div>
<svg style="left:432.2px;top:1077.6px;" width="18" height="18" viewBox="0 0 18 18"><g fill="none" stroke="#666" stroke-width="2.5"><path d="M 2.4 8 A 6.7 6.7 0 0 1 14.2 4.6"/><path d="M 15.6 10 A 6.7 6.7 0 0 1 3.8 13.4"/></g><path d="M 16.6 1.4 V 7.6 H 10.4 Z" fill="#666"/><path d="M 1.4 16.6 V 10.4 H 7.6 Z" fill="#666"/></svg>
<div class="btn" style="left:466px;top:1072.2px;width:27.8px;height:28.4px;"></div>
<svg style="left:470.0px;top:1076.0px;" width="19.4" height="19.4" viewBox="0 0 18 18"><path d="M 6.8 1.2 H 11.2 V 6.6 H 14.6 L 9 12.4 L 3.4 6.6 H 6.8 Z" fill="#666"/><path d="M 1 11.4 H 4.6 L 7 13.8 H 11 L 13.4 11.4 H 17 V 16.6 H 1 Z" fill="#666"/><rect x="12.2" y="14.2" width="1.4" height="1.2" fill="#f0f0f0"/><rect x="14.4" y="14.2" width="1.4" height="1.2" fill="#f0f0f0"/></svg>
<div class="btn" style="left:504.4px;top:1072.2px;width:120.4px;height:28.4px;"></div>
<span class="t" style="left:514.8px;top:1079.00px;font-size:14.4px;line-height:14.4px;color:#6c6c6c;font-weight:700;">Clear Selected</span>
<div class="btn" style="left:636px;top:1072.2px;width:78.4px;height:28.4px;"></div>
<span class="t" style="left:646.4px;top:1079.00px;font-size:14.4px;line-height:14.4px;color:#6c6c6c;font-weight:700;">Clear All</span>
<div class="btn" style="left:725.2px;top:1072.2px;width:27.8px;height:28.4px;"></div>
<svg style="left:729.6px;top:1077.6px;" width="19" height="18" viewBox="0 0 19 18"><path d="M 4.4 1 H 12.4 L 14.6 3.2 V 7 H 4.4 Z" fill="none" stroke="#666" stroke-width="1.6"/><path d="M 1 8 Q 1 6.4 2.6 6.4 H 16.4 Q 18 6.4 18 8 V 13.6 H 15 V 11 H 4 V 13.6 H 1 Z" fill="#666"/><rect x="4.6" y="11.6" width="9.8" height="5" fill="none" stroke="#666" stroke-width="1.5"/><rect x="6.2" y="13.6" width="6.6" height="1.1" fill="#666"/></svg>
<div style="left:764px;top:1078px;width:1px;height:17px;background:#dedede;"></div>
<div class="btn" style="left:775px;top:1072.2px;width:107.4px;height:28.4px;"></div>
<svg style="left:780.5px;top:1077.5px;" width="19" height="19" viewBox="0 0 19 19"><circle cx="7.6" cy="7.6" r="5.7" fill="none" stroke="#666" stroke-width="2.3"/><path d="M 11.8 11.8 L 16.6 16.6" stroke="#666" stroke-width="2.8" stroke-linecap="round"/></svg>
<span class="t" style="left:805px;top:1079.00px;font-size:14.4px;line-height:14.4px;color:#6c6c6c;font-weight:700;">Search</span>
<svg style="left:862px;top:1083.5px;" width="10" height="6" viewBox="0 0 10 6"><path d="M 0.2 0.3 L 9.4 0.3 L 4.8 5.2 Z" fill="#a8a8a8"/></svg>
<div style="left:893.3px;top:1072.4px;width:120.8px;height:28.2px;border:1px solid #d2d2d2;background:#fff;"></div>
<svg style="left:991.5px;top:1078px;" width="17" height="17" viewBox="0 0 17 17"><circle cx="8.5" cy="8.5" r="8" fill="#cfcfcf"/><path d="M 5.6 5.6 L 11.4 11.4 M 11.4 5.6 L 5.6 11.4" stroke="#fff" stroke-width="1.9"/></svg>
<svg style="left:1037.4px;top:572.6px;" width="24.0" height="24.0" viewBox="-12.0 -12.0 24.0 24.0"><path d="M -7.99 1.48 L -7.86 2.30 L -7.66 3.03 L -7.39 3.70 L -7.06 4.30 L -6.65 4.85 L -6.19 5.34 L -5.65 5.78 L -5.06 6.15 L -4.40 6.47 L -3.67 6.73 L -2.87 6.93 L -1.98 7.06 L -0.96 7.14 L 0.55 7.15 L 1.66 7.09 L 2.59 6.98 L 3.41 6.80 L 4.16 6.56 L 4.84 6.27 L 5.46 5.91 L 6.01 5.49 L 6.50 5.02 L 6.93 4.49 L 7.29 3.90 L 7.58 3.26 L 7.80 2.55 L 7.95 1.76 L 8.03 0.85 L 8.05 -0.49 L 7.99 -1.48 L 7.86 -2.30 L 7.66 -3.03 L 7.39 -3.70 L 7.06 -4.30 L 6.65 -4.85 L 6.19 -5.34 L 5.65 -5.78 L 5.06 -6.15 L 4.40 -6.47 L 3.67 -6.73" fill="none" stroke="#fff" stroke-width="2.65" stroke-linecap="round" stroke-linejoin="round"/><rect x="-3.60" y="-3.30" width="7.80" height="7.10" rx="2.90" fill="#fff"/></svg>
<span class="t" style="left:1066px;top:577.00px;font-size:15.6px;line-height:15.6px;color:#fff;font-weight:700;">Feature Usage Status</span>
<svg style="left:1968.6px;top:573.2px;" width="22" height="22" viewBox="-11 -11 22 22"><circle cx="0" cy="0" r="9.6" fill="#e6e8eb"/><rect x="-6" y="-1.2" width="12" height="2.6" rx="1" fill="#13263a"/></svg>
<svg style="left:1995.2px;top:573.2px;" width="22" height="22" viewBox="-11 -11 22 22"><circle cx="0" cy="0" r="9.6" fill="#e6e8eb"/><path d="M -2.0 -4.7 L 4.8 -4.7 L 4.8 2.1 Z M -4.9 -1.9 L -4.9 4.8 L 1.9 4.8 Z" fill="#13263a" /></svg>
<svg style="left:2021.8px;top:573.2px;" width="22" height="22" viewBox="-11 -11 22 22"><circle cx="0" cy="0" r="9.6" fill="#e6e8eb"/><path d="M -4.3 -4.3 L 4.3 4.3 M 4.3 -4.3 L -4.3 4.3" stroke="#1d2f43" stroke-width="2.25" stroke-linecap="round"/></svg>
<div style="left:1031.6px;top:604px;width:44.6px;height:505.6px;background:#50575f;"></div>
<svg style="left:1043.9px;top:614.5px;" width="21" height="21" viewBox="0 0 21 21"><circle cx="10.5" cy="10.5" r="10" fill="#ebecee"/><path d="M 9.0 6.4 L 13.2 10.4 L 9.0 14.4" fill="none" stroke="#50575f" stroke-width="2.9" stroke-linecap="round" stroke-linejoin="round"/></svg>
<span class="t" style="left:1048.8px;top:642.2px;font-size:15.6px;line-height:15.6px;color:#fff;transform-origin:0 0;transform:translate(13.4px,0) rotate(90deg);">Filter</span>
<div style="left:1076.4px;top:826px;width:8px;height:58.6px;background:#41505f;"></div>
<svg style="left:1078.4px;top:851px;" width="6" height="11" viewBox="0 0 6 11"><path d="M 0.5 0.5 L 5.2 5.5 L 0.5 10.5 Z" fill="#1c2d40"/></svg>
<div style="left:1084.4px;top:604px;width:970px;height:505.6px;background:#fff;"></div>
<div style="left:1084.4px;top:604px;width:970px;height:35.6px;background:#f5f5f5;border-bottom:1px solid #cdcdcd;"></div>
<div style="left:1188px;top:604px;width:1px;height:35px;background:#d3d3d3;"></div>
<div style="left:1241px;top:604px;width:1px;height:35px;background:#d3d3d3;"></div>
<div style="left:1294px;top:604px;width:1px;height:35px;background:#d3d3d3;"></div>
<div style="left:1345px;top:604px;width:1px;height:35px;background:#d3d3d3;"></div>
<div style="left:1451px;top:604px;width:1px;height:35px;background:#d3d3d3;"></div>
<div style="left:1504px;top:604px;width:1px;height:35px;background:#d3d3d3;"></div>
<div style="left:1556.4px;top:604px;width:1px;height:35px;background:#d3d3d3;"></div>
<div style="left:1609.2px;top:604px;width:1px;height:35px;background:#d3d3d3;"></div>
<div style="left:1661.2px;top:604px;width:1px;height:35px;background:#d3d3d3;"></div>
<div style="left:1766.4px;top:604px;width:1px;height:35px;background:#d3d3d3;"></div>
<div style="left:1911.4px;top:604px;width:1px;height:35px;background:#d3d3d3;"></div>
<div style="left:1963.4px;top:604px;width:1px;height:35px;background:#d3d3d3;"></div>
<span class="t" style="left:1096.8000000000002px;top:614.00px;font-size:15.6px;line-height:15.6px;color:#666;font-weight:700;">Usage %</span>
<span class="t" style="left:1201.0px;top:614.00px;font-size:15.6px;line-height:15.6px;color:#666;font-weight:700;">Q</span>
<span class="t" style="left:1253.8000000000002px;top:614.00px;font-size:15.6px;line-height:15.6px;color:#666;font-weight:700;">U.</span>
<span class="t" style="left:1306.8000000000002px;top:614.00px;font-size:15.6px;line-height:15.6px;color:#666;font-weight:700;">B</span>
<span class="t" style="left:1358.4px;top:614.00px;font-size:15.6px;line-height:15.6px;color:#666;font-weight:700;">Feature …</span>
<span class="t" style="left:1463.6000000000001px;top:614.00px;font-size:15.6px;line-height:15.6px;color:#666;font-weight:700;">V…</span>
<span class="t" style="left:1516.4px;top:614.00px;font-size:15.6px;line-height:15.6px;color:#666;font-weight:700;">S…</span>
<span class="t" style="left:1569.4px;top:614.00px;font-size:15.6px;line-height:15.6px;color:#666;font-weight:700;">L…</span>
<span class="t" style="left:1622.0px;top:614.00px;font-size:15.6px;line-height:15.6px;color:#666;font-weight:700;">V…</span>
<span class="t" style="left:1674.4px;top:614.00px;font-size:15.6px;line-height:15.6px;color:#666;font-weight:700;">Product …</span>
<span class="t" style="left:1779.4px;top:614.00px;font-size:15.6px;line-height:15.6px;color:#666;font-weight:700;">Additional Key</span>
<span class="t" style="left:1924.4px;top:614.00px;font-size:15.6px;line-height:15.6px;color:#666;font-weight:700;">T…</span>
<span class="t" style="left:1983px;top:614.00px;font-size:15.6px;line-height:15.6px;color:#666;font-weight:700;">Delete</span>
<div style="left:1084.4px;top:640.7px;width:970px;height:35.0px;background:#fff;"></div>
<div style="left:1096.3px;top:647.0px;width:87.4px;height:23.3px;border:1.1px solid;border-color:#111 #858585 #858585 #2a2a2a;border-radius:1.5px;background:#fff;overflow:hidden;"><div style="left:0;top:0;height:100%;width:22.8px;background:linear-gradient(90deg,#22ff08 0px,#ca982d 43px);"></div></div>
<span class="t" style="left:1096.4px;top:653.00px;font-size:15.6px;line-height:15.6px;color:#000;font-weight:700;width:87.2px;overflow:hidden;text-align:center;height:18px;">26.70%</span>
<span class="t" style="left:1188px;top:651.00px;font-size:15.6px;line-height:15.6px;color:#1414f5;width:41px;overflow:hidden;text-align:right;height:20px;"><span style="text-decoration:underline;text-decoration-thickness:1.3px;text-underline-offset:0.7px;">15</span></span>
<span class="t" style="left:1241px;top:651.00px;font-size:15.6px;line-height:15.6px;color:#1414f5;width:41px;overflow:hidden;text-align:right;height:20px;"><span style="text-decoration:underline;text-decoration-thickness:1.3px;text-underline-offset:0.7px;">4</span></span>
<span class="t" style="left:1294px;top:651.00px;font-size:15.6px;line-height:15.6px;color:#111;width:39.6px;overflow:hidden;text-align:right;">0</span>
<span class="t" style="left:1358px;top:651.00px;font-size:15.6px;line-height:15.6px;color:#111;">Editor</span>
<span class="t" style="left:1569px;top:651.00px;font-size:15.6px;line-height:15.6px;color:#111;">Fl…</span>
<span class="t" style="left:1621.6px;top:651.00px;font-size:15.6px;line-height:15.6px;color:#111;">[…</span>
<span class="t" style="left:1674px;top:651.00px;font-size:15.6px;line-height:15.6px;color:#111;">ArcEditor</span>
<span class="t" style="left:1924px;top:651.00px;font-size:15.6px;line-height:15.6px;color:#111;">0</span>
<svg style="left:1995.5px;top:647.1px;" width="20" height="20" viewBox="0 0 20 20"><circle cx="10" cy="10" r="9.6" fill="#0c0c0c"/><path d="M 6.4 6.4 L 13.6 13.6 M 13.6 6.4 L 6.4 13.6" stroke="#fff" stroke-width="3.1"/></svg>
<div style="left:1084.4px;top:675.7px;width:970px;height:35.0px;background:#fafafa;box-shadow:0 -1px 0 #ededed;"></div>
<div style="left:1096.3px;top:682.0px;width:87.4px;height:23.3px;border:1.1px solid;border-color:#111 #858585 #858585 #2a2a2a;border-radius:1.5px;background:#fff;overflow:hidden;"><div style="left:0;top:0;height:100%;width:32.0px;background:linear-gradient(90deg,#22ff08 0px,#ca982d 43px);"></div></div>
<span class="t" style="left:1096.4px;top:688.00px;font-size:15.6px;line-height:15.6px;color:#000;font-weight:700;width:87.2px;overflow:hidden;text-align:center;height:18px;">37.50%</span>
<span class="t" style="left:1188px;top:686.00px;font-size:15.6px;line-height:15.6px;color:#1414f5;width:41px;overflow:hidden;text-align:right;height:20px;"><span style="text-decoration:underline;text-decoration-thickness:1.3px;text-underline-offset:0.7px;">8</span></span>
<span class="t" style="left:1241px;top:686.00px;font-size:15.6px;line-height:15.6px;color:#1414f5;width:41px;overflow:hidden;text-align:right;height:20px;"><span style="text-decoration:underline;text-decoration-thickness:1.3px;text-underline-offset:0.7px;">3</span></span>
<span class="t" style="left:1294px;top:686.00px;font-size:15.6px;line-height:15.6px;color:#111;width:39.6px;overflow:hidden;text-align:right;">0</span>
<span class="t" style="left:1358px;top:686.00px;font-size:15.6px;line-height:15.6px;color:#111;">ane3</span>
<span class="t" style="left:1569px;top:686.00px;font-size:15.6px;line-height:15.6px;color:#111;">Fl…</span>
<span class="t" style="left:1674px;top:686.00px;font-size:15.6px;line-height:15.6px;color:#111;">ANSYS …</span>
<span class="t" style="left:1924px;top:686.00px;font-size:15.6px;line-height:15.6px;color:#111;">0</span>
<svg style="left:1995.5px;top:682.1px;" width="20" height="20" viewBox="0 0 20 20"><circle cx="10" cy="10" r="9.6" fill="#0c0c0c"/><path d="M 6.4 6.4 L 13.6 13.6 M 13.6 6.4 L 6.4 13.6" stroke="#fff" stroke-width="3.1"/></svg>
<div style="left:1084.4px;top:710.7px;width:970px;height:35.0px;background:#fff;box-shadow:0 -1px 0 #ededed;"></div>
<div style="left:1096.3px;top:717.0px;width:87.4px;height:23.3px;border:1.1px solid;border-color:#111 #858585 #858585 #2a2a2a;border-radius:1.5px;background:#fff;overflow:hidden;"><div style="left:0;top:0;height:100%;width:32.0px;background:linear-gradient(90deg,#22ff08 0px,#ca982d 43px);"></div></div>
<span class="t" style="left:1096.4px;top:723.00px;font-size:15.6px;line-height:15.6px;color:#000;font-weight:700;width:87.2px;overflow:hidden;text-align:center;height:18px;">37.50%</span>
<span class="t" style="left:1188px;top:721.00px;font-size:15.6px;line-height:15.6px;color:#1414f5;width:41px;overflow:hidden;text-align:right;height:20px;"><span style="text-decoration:underline;text-decoration-thickness:1.3px;text-underline-offset:0.7px;">8</span></span>
<span class="t" style="left:1241px;top:721.00px;font-size:15.6px;line-height:15.6px;color:#1414f5;width:41px;overflow:hidden;text-align:right;height:20px;"><span style="text-decoration:underline;text-decoration-thickness:1.3px;text-underline-offset:0.7px;">3</span></span>
<span class="t" style="left:1294px;top:721.00px;font-size:15.6px;line-height:15.6px;color:#111;width:39.6px;overflow:hidden;text-align:right;">0</span>
<span class="t" style="left:1358px;top:721.00px;font-size:15.6px;line-height:15.6px;color:#111;">Defense</span>
<span class="t" style="left:1569px;top:721.00px;font-size:15.6px;line-height:15.6px;color:#111;">Fl…</span>
<span class="t" style="left:1674px;top:721.00px;font-size:15.6px;line-height:15.6px;color:#111;">PLTS De…</span>
<span class="t" style="left:1924px;top:721.00px;font-size:15.6px;line-height:15.6px;color:#111;">0</span>
<svg style="left:1995.5px;top:717.1px;" width="20" height="20" viewBox="0 0 20 20"><circle cx="10" cy="10" r="9.6" fill="#0c0c0c"/><path d="M 6.4 6.4 L 13.6 13.6 M 13.6 6.4 L 6.4 13.6" stroke="#fff" stroke-width="3.1"/></svg>
<div style="left:1084.4px;top:745.7px;width:970px;height:35.0px;background:#fafafa;box-shadow:0 -1px 0 #ededed;"></div>
<div style="left:1096.3px;top:752.0px;width:87.4px;height:23.3px;border:1.1px solid;border-color:#111 #858585 #858585 #2a2a2a;border-radius:1.5px;background:#fff;overflow:hidden;"><div style="left:0;top:0;height:100%;width:35.6px;background:linear-gradient(90deg,#22ff08 0px,#ca982d 43px);"></div></div>
<span class="t" style="left:1096.4px;top:758.00px;font-size:15.6px;line-height:15.6px;color:#000;font-weight:700;width:87.2px;overflow:hidden;text-align:center;height:18px;">41.70%</span>
<span class="t" style="left:1188px;top:756.00px;font-size:15.6px;line-height:15.6px;color:#1414f5;width:41px;overflow:hidden;text-align:right;height:20px;"><span style="text-decoration:underline;text-decoration-thickness:1.3px;text-underline-offset:0.7px;">60</span></span>
<span class="t" style="left:1241px;top:756.00px;font-size:15.6px;line-height:15.6px;color:#1414f5;width:41px;overflow:hidden;text-align:right;height:20px;"><span style="text-decoration:underline;text-decoration-thickness:1.3px;text-underline-offset:0.7px;">25</span></span>
<span class="t" style="left:1294px;top:756.00px;font-size:15.6px;line-height:15.6px;color:#111;width:39.6px;overflow:hidden;text-align:right;">0</span>
<span class="t" style="left:1358px;top:756.00px;font-size:15.6px;line-height:15.6px;color:#111;">Compiler</span>
<span class="t" style="left:1569px;top:756.00px;font-size:15.6px;line-height:15.6px;color:#111;">Fl…</span>
<span class="t" style="left:1674px;top:756.00px;font-size:15.6px;line-height:15.6px;color:#111;">Matlab C…</span>
<span class="t" style="left:1924px;top:756.00px;font-size:15.6px;line-height:15.6px;color:#111;">0</span>
<svg style="left:1995.5px;top:752.1px;" width="20" height="20" viewBox="0 0 20 20"><circle cx="10" cy="10" r="9.6" fill="#0c0c0c"/><path d="M 6.4 6.4 L 13.6 13.6 M 13.6 6.4 L 6.4 13.6" stroke="#fff" stroke-width="3.1"/></svg>
<div style="left:1084.4px;top:780.7px;width:970px;height:35.0px;background:#fff;box-shadow:0 -1px 0 #ededed;"></div>
<div style="left:1096.3px;top:787.0px;width:87.4px;height:23.3px;border:1.1px solid;border-color:#111 #858585 #858585 #2a2a2a;border-radius:1.5px;background:#fff;overflow:hidden;"><div style="left:0;top:0;height:100%;width:36.2px;background:linear-gradient(90deg,#22ff08 0px,#ca982d 43px);"></div></div>
<span class="t" style="left:1096.4px;top:793.00px;font-size:15.6px;line-height:15.6px;color:#000;font-weight:700;width:87.2px;overflow:hidden;text-align:center;height:18px;">42.40%</span>
<span class="t" style="left:1188px;top:791.00px;font-size:15.6px;line-height:15.6px;color:#1414f5;width:41px;overflow:hidden;text-align:right;height:20px;"><span style="text-decoration:underline;text-decoration-thickness:1.3px;text-underline-offset:0.7px;">92</span></span>
<span class="t" style="left:1241px;top:791.00px;font-size:15.6px;line-height:15.6px;color:#1414f5;width:41px;overflow:hidden;text-align:right;height:20px;"><span style="text-decoration:underline;text-decoration-thickness:1.3px;text-underline-offset:0.7px;">39</span></span>
<span class="t" style="left:1294px;top:791.00px;font-size:15.6px;line-height:15.6px;color:#111;width:39.6px;overflow:hidden;text-align:right;">0</span>
<span class="t" style="left:1358px;top:791.00px;font-size:15.6px;line-height:15.6px;color:#111;">SIMULINK</span>
<span class="t" style="left:1569px;top:791.00px;font-size:15.6px;line-height:15.6px;color:#111;">Fl…</span>
<span class="t" style="left:1674px;top:791.00px;font-size:15.6px;line-height:15.6px;color:#111;">Simulink …</span>
<span class="t" style="left:1924px;top:791.00px;font-size:15.6px;line-height:15.6px;color:#111;">0</span>
<svg style="left:1995.5px;top:787.1px;" width="20" height="20" viewBox="0 0 20 20"><circle cx="10" cy="10" r="9.6" fill="#0c0c0c"/><path d="M 6.4 6.4 L 13.6 13.6 M 13.6 6.4 L 6.4 13.6" stroke="#fff" stroke-width="3.1"/></svg>
<div style="left:1084.4px;top:815.7px;width:970px;height:35.0px;background:#fafafa;box-shadow:0 -1px 0 #ededed;"></div>
<div style="left:1096.3px;top:822.0px;width:87.4px;height:23.3px;border:1.1px solid;border-color:#111 #858585 #858585 #2a2a2a;border-radius:1.5px;background:#fff;overflow:hidden;"></div>
<span class="t" style="left:1096.4px;top:828.00px;font-size:15.6px;line-height:15.6px;color:#000;font-weight:700;width:87.2px;overflow:hidden;text-align:center;height:18px;">0.00%</span>
<span class="t" style="left:1188px;top:826.00px;font-size:15.6px;line-height:15.6px;color:#1414f5;width:41px;overflow:hidden;text-align:right;height:20px;"><span style="text-decoration:underline;text-decoration-thickness:1.3px;text-underline-offset:0.7px;">60</span></span>
<span class="t" style="left:1241px;top:826.00px;font-size:15.6px;line-height:15.6px;color:#111;width:41px;overflow:hidden;text-align:right;">0</span>
<span class="t" style="left:1294px;top:826.00px;font-size:15.6px;line-height:15.6px;color:#111;width:39.6px;overflow:hidden;text-align:right;">0</span>
<span class="t" style="left:1358px;top:826.00px;font-size:15.6px;line-height:15.6px;color:#111;">NX11110…</span>
<span class="t" style="left:1516px;top:826.00px;font-size:15.6px;line-height:15.6px;color:#111;">M…</span>
<span class="t" style="left:1569px;top:826.00px;font-size:15.6px;line-height:15.6px;color:#111;">Fl…</span>
<span class="t" style="left:1674px;top:826.00px;font-size:15.6px;line-height:15.6px;color:#111;">NX11110…</span>
<span class="t" style="left:1924px;top:826.00px;font-size:15.6px;line-height:15.6px;color:#111;">0</span>
<svg style="left:1995.5px;top:822.1px;" width="20" height="20" viewBox="0 0 20 20"><circle cx="10" cy="10" r="9.6" fill="#0c0c0c"/><path d="M 6.4 6.4 L 13.6 13.6 M 13.6 6.4 L 6.4 13.6" stroke="#fff" stroke-width="3.1"/></svg>
<div style="left:1084.4px;top:850.7px;width:970px;height:35.0px;background:#fff;box-shadow:0 -1px 0 #ededed;"></div>
<div style="left:1096.3px;top:857.0px;width:87.4px;height:23.3px;border:1.1px solid;border-color:#111 #858585 #858585 #2a2a2a;border-radius:1.5px;background:#fff;overflow:hidden;"></div>
<span class="t" style="left:1096.4px;top:863.00px;font-size:15.6px;line-height:15.6px;color:#000;font-weight:700;width:87.2px;overflow:hidden;text-align:center;height:18px;">0.00%</span>
<span class="t" style="left:1188px;top:861.00px;font-size:15.6px;line-height:15.6px;color:#1414f5;width:41px;overflow:hidden;text-align:right;height:20px;"><span style="text-decoration:underline;text-decoration-thickness:1.3px;text-underline-offset:0.7px;">55</span></span>
<span class="t" style="left:1241px;top:861.00px;font-size:15.6px;line-height:15.6px;color:#111;width:41px;overflow:hidden;text-align:right;">0</span>
<span class="t" style="left:1294px;top:861.00px;font-size:15.6px;line-height:15.6px;color:#111;width:39.6px;overflow:hidden;text-align:right;">0</span>
<span class="t" style="left:1358px;top:861.00px;font-size:15.6px;line-height:15.6px;color:#111;">NX1310…</span>
<span class="t" style="left:1516px;top:861.00px;font-size:15.6px;line-height:15.6px;color:#111;">M…</span>
<span class="t" style="left:1569px;top:861.00px;font-size:15.6px;line-height:15.6px;color:#111;">Fl…</span>
<span class="t" style="left:1674px;top:861.00px;font-size:15.6px;line-height:15.6px;color:#111;">NX1310…</span>
<span class="t" style="left:1924px;top:861.00px;font-size:15.6px;line-height:15.6px;color:#111;">0</span>
<svg style="left:1995.5px;top:857.1px;" width="20" height="20" viewBox="0 0 20 20"><circle cx="10" cy="10" r="9.6" fill="#0c0c0c"/><path d="M 6.4 6.4 L 13.6 13.6 M 13.6 6.4 L 6.4 13.6" stroke="#fff" stroke-width="3.1"/></svg>
<div style="left:1084.4px;top:885.7px;width:970px;height:35.0px;background:#fafafa;box-shadow:0 -1px 0 #ededed;"></div>
<div style="left:1096.3px;top:892.0px;width:87.4px;height:23.3px;border:1.1px solid;border-color:#111 #858585 #858585 #2a2a2a;border-radius:1.5px;background:#fff;overflow:hidden;"></div>
<span class="t" style="left:1096.4px;top:898.00px;font-size:15.6px;line-height:15.6px;color:#000;font-weight:700;width:87.2px;overflow:hidden;text-align:center;height:18px;">0.00%</span>
<span class="t" style="left:1188px;top:896.00px;font-size:15.6px;line-height:15.6px;color:#1414f5;width:41px;overflow:hidden;text-align:right;height:20px;"><span style="text-decoration:underline;text-decoration-thickness:1.3px;text-underline-offset:0.7px;">48</span></span>
<span class="t" style="left:1241px;top:896.00px;font-size:15.6px;line-height:15.6px;color:#111;width:41px;overflow:hidden;text-align:right;">0</span>
<span class="t" style="left:1294px;top:896.00px;font-size:15.6px;line-height:15.6px;color:#111;width:39.6px;overflow:hidden;text-align:right;">0</span>
<span class="t" style="left:1358px;top:896.00px;font-size:15.6px;line-height:15.6px;color:#111;">abaqus</span>
<span class="t" style="left:1516px;top:896.00px;font-size:15.6px;line-height:15.6px;color:#111;">A…</span>
<span class="t" style="left:1569px;top:896.00px;font-size:15.6px;line-height:15.6px;color:#111;">Fl…</span>
<span class="t" style="left:1621.6px;top:896.00px;font-size:15.6px;line-height:15.6px;color:#111;">[…</span>
<span class="t" style="left:1674px;top:896.00px;font-size:15.6px;line-height:15.6px;color:#111;">Simulia …</span>
<span class="t" style="left:1924px;top:896.00px;font-size:15.6px;line-height:15.6px;color:#111;">0</span>
<svg style="left:1995.5px;top:892.1px;" width="20" height="20" viewBox="0 0 20 20"><circle cx="10" cy="10" r="9.6" fill="#0c0c0c"/><path d="M 6.4 6.4 L 13.6 13.6 M 13.6 6.4 L 6.4 13.6" stroke="#fff" stroke-width="3.1"/></svg>
<div style="left:1084.4px;top:920.7px;width:970px;height:35.0px;background:#fff;box-shadow:0 -1px 0 #ededed;"></div>
<div style="left:1096.3px;top:927.0px;width:87.4px;height:23.3px;border:1.1px solid;border-color:#111 #858585 #858585 #2a2a2a;border-radius:1.5px;background:#fff;overflow:hidden;"></div>
<span class="t" style="left:1096.4px;top:933.00px;font-size:15.6px;line-height:15.6px;color:#000;font-weight:700;width:87.2px;overflow:hidden;text-align:center;height:18px;">0.00%</span>
<span class="t" style="left:1188px;top:931.00px;font-size:15.6px;line-height:15.6px;color:#1414f5;width:41px;overflow:hidden;text-align:right;height:20px;"><span style="text-decoration:underline;text-decoration-thickness:1.3px;text-underline-offset:0.7px;">1</span></span>
<span class="t" style="left:1241px;top:931.00px;font-size:15.6px;line-height:15.6px;color:#111;width:41px;overflow:hidden;text-align:right;">0</span>
<span class="t" style="left:1294px;top:931.00px;font-size:15.6px;line-height:15.6px;color:#111;width:39.6px;overflow:hidden;text-align:right;">0</span>
<span class="t" style="left:1358px;top:931.00px;font-size:15.6px;line-height:15.6px;color:#111;">ASHC410</span>
<span class="t" style="left:1516px;top:931.00px;font-size:15.6px;line-height:15.6px;color:#111;">C…</span>
<span class="t" style="left:1569px;top:931.00px;font-size:15.6px;line-height:15.6px;color:#111;">Fl…</span>
<span class="t" style="left:1674px;top:931.00px;font-size:15.6px;line-height:15.6px;color:#111;">ASHC410</span>
<span class="t" style="left:1779px;top:931.00px;font-size:15.6px;line-height:15.6px;color:#111;">SIT00008285_…</span>
<span class="t" style="left:1924px;top:931.00px;font-size:15.6px;line-height:15.6px;color:#111;">0</span>
<svg style="left:1995.5px;top:927.1px;" width="20" height="20" viewBox="0 0 20 20"><circle cx="10" cy="10" r="9.6" fill="#0c0c0c"/><path d="M 6.4 6.4 L 13.6 13.6 M 13.6 6.4 L 6.4 13.6" stroke="#fff" stroke-width="3.1"/></svg>
<div style="left:1084.4px;top:955.2px;width:970px;height:1px;background:#ededed;"></div>
<div style="left:1084.4px;top:638.9px;width:970px;height:1px;background:#cdcdcd;"></div>
<div style="left:1084.4px;top:1065.6px;width:970px;height:1px;background:#c8c8c8;"></div>
<div class="btn" style="left:1933.4px;top:1074px;width:27.6px;height:28.2px;"></div>
<svg style="left:1938.2px;top:1079.2px;" width="18" height="18" viewBox="0 0 18 18"><g fill="none" stroke="#666" stroke-width="2.5"><path d="M 2.4 8 A 6.7 6.7 0 0 1 14.2 4.6"/><path d="M 15.6 10 A 6.7 6.7 0 0 1 3.8 13.4"/></g><path d="M 16.6 1.4 V 7.6 H 10.4 Z" fill="#666"/><path d="M 1.4 16.6 V 10.4 H 7.6 Z" fill="#666"/></svg>
<div class="btn" style="left:1971.6px;top:1074px;width:28px;height:28.2px;"></div>
<svg style="left:1975.8px;top:1077.6px;" width="19.4" height="19.4" viewBox="0 0 18 18"><path d="M 6.8 1.2 H 11.2 V 6.6 H 14.6 L 9 12.4 L 3.4 6.6 H 6.8 Z" fill="#666"/><path d="M 1 11.4 H 4.6 L 7 13.8 H 11 L 13.4 11.4 H 17 V 16.6 H 1 Z" fill="#666"/><rect x="12.2" y="14.2" width="1.4" height="1.2" fill="#f0f0f0"/><rect x="14.4" y="14.2" width="1.4" height="1.2" fill="#f0f0f0"/></svg>
<div class="btn" style="left:2010.4px;top:1074px;width:27.8px;height:28.2px;"></div>
<svg style="left:2014.8px;top:1079.2px;" width="19" height="18" viewBox="0 0 19 18"><path d="M 4.4 1 H 12.4 L 14.6 3.2 V 7 H 4.4 Z" fill="none" stroke="#666" stroke-width="1.6"/><path d="M 1 8 Q 1 6.4 2.6 6.4 H 16.4 Q 18 6.4 18 8 V 13.6 H 15 V 11 H 4 V 13.6 H 1 Z" fill="#666"/><rect x="4.6" y="11.6" width="9.8" height="5" fill="none" stroke="#666" stroke-width="1.5"/><rect x="6.2" y="13.6" width="6.6" height="1.1" fill="#666"/></svg>
<div style="left:2px;top:1116.5px;width:113px;height:30px;background:linear-gradient(#f6f6f6 0%,#f1f1f1 48%,#e9e9e9 52%,#ececec 100%);border:1px solid #dcdcdc;border-radius:4px 4px 0 0;"></div>
<svg style="left:16.200000000000003px;top:1116.5px;" width="27.599999999999998" height="27.599999999999998" viewBox="-13.799999999999999 -13.799999999999999 27.599999999999998 27.599999999999998"><path d="M -9.19 1.70 L -9.04 2.64 L -8.81 3.49 L -8.50 4.25 L -8.11 4.95 L -7.65 5.58 L -7.11 6.14 L -6.50 6.64 L -5.81 7.08 L -5.06 7.44 L -4.22 7.74 L -3.30 7.97 L -2.28 8.12 L -1.10 8.21 L 0.63 8.22 L 1.91 8.16 L 2.97 8.03 L 3.92 7.82 L 4.79 7.55 L 5.57 7.21 L 6.28 6.80 L 6.92 6.32 L 7.48 5.77 L 7.97 5.16 L 8.38 4.49 L 8.71 3.75 L 8.97 2.93 L 9.14 2.03 L 9.24 0.98 L 9.25 -0.56 L 9.19 -1.70 L 9.04 -2.64 L 8.81 -3.49 L 8.50 -4.25 L 8.11 -4.95 L 7.65 -5.58 L 7.11 -6.14 L 6.50 -6.64 L 5.81 -7.08 L 5.06 -7.44 L 4.22 -7.74" fill="none" stroke="#3b3735" stroke-width="3.79" stroke-linecap="round" stroke-linejoin="round"/><rect x="-5.13" y="-4.69" width="10.94" height="9.96" rx="4.07" fill="#0d96e8"/></svg>
<span class="t" style="left:47.5px;top:1121.00px;font-size:16.5px;line-height:16.5px;color:#666;font-weight:700;">Start</span>
<svg style="left:94.8px;top:1126.8px;" width="11" height="7" viewBox="0 0 11 7"><path d="M 0.3 0.4 L 10.3 0.4 L 5.3 6 Z" fill="#9a9a9a"/></svg>
<div style="left:209px;top:1121.5px;width:1px;height:17px;background:#e2e2e2;"></div>
<div style="left:245px;top:1117.2px;width:193px;height:25.8px;background:linear-gradient(#dedede 0%,#dadada 48%,#cfcfcf 52%,#d6d6d6 100%);border:1px solid #c9c9c9;border-radius:4px 4px 0 0;"></div>
<svg style="left:254.6px;top:1119.1999999999998px;" width="22.799999999999997" height="22.799999999999997" viewBox="-11.399999999999999 -11.399999999999999 22.799999999999997 22.799999999999997"><path d="M -7.59 1.40 L -7.47 2.18 L -7.28 2.88 L -7.02 3.51 L -6.70 4.09 L -6.32 4.61 L -5.88 5.08 L -5.37 5.49 L -4.80 5.85 L -4.18 6.15 L -3.49 6.39 L -2.73 6.58 L -1.88 6.71 L -0.91 6.78 L 0.52 6.79 L 1.58 6.74 L 2.46 6.63 L 3.24 6.46 L 3.95 6.24 L 4.60 5.95 L 5.19 5.61 L 5.71 5.22 L 6.18 4.77 L 6.58 4.27 L 6.92 3.71 L 7.20 3.10 L 7.41 2.42 L 7.55 1.67 L 7.63 0.81 L 7.64 -0.46 L 7.59 -1.40 L 7.47 -2.18 L 7.28 -2.88 L 7.02 -3.51 L 6.70 -4.09 L 6.32 -4.61 L 5.88 -5.08 L 5.37 -5.49 L 4.80 -5.85 L 4.18 -6.15 L 3.49 -6.39" fill="none" stroke="#f8f8f8" stroke-width="2.52" stroke-linecap="round" stroke-linejoin="round"/><rect x="-3.42" y="-3.13" width="7.41" height="6.74" rx="2.75" fill="#f8f8f8"/></svg>
<span class="t" style="left:281.6px;top:1124.00px;font-size:14.4px;line-height:14.4px;color:#666;font-weight:700;">License Manager -...</span>
<div style="left:448.6px;top:1117.2px;width:193px;height:25.8px;background:linear-gradient(#f6f6f6 0%,#f1f1f1 48%,#e9e9e9 52%,#ececec 100%);border:1px solid #dcdcdc;border-radius:4px 4px 0 0;"></div>
<svg style="left:449.6px;top:1119.1999999999998px;" width="22.799999999999997" height="22.799999999999997" viewBox="-11.399999999999999 -11.399999999999999 22.799999999999997 22.799999999999997"><path d="M -7.59 1.40 L -7.47 2.18 L -7.28 2.88 L -7.02 3.51 L -6.70 4.09 L -6.32 4.61 L -5.88 5.08 L -5.37 5.49 L -4.80 5.85 L -4.18 6.15 L -3.49 6.39 L -2.73 6.58 L -1.88 6.71 L -0.91 6.78 L 0.52 6.79 L 1.58 6.74 L 2.46 6.63 L 3.24 6.46 L 3.95 6.24 L 4.60 5.95 L 5.19 5.61 L 5.71 5.22 L 6.18 4.77 L 6.58 4.27 L 6.92 3.71 L 7.20 3.10 L 7.41 2.42 L 7.55 1.67 L 7.63 0.81 L 7.64 -0.46 L 7.59 -1.40 L 7.47 -2.18 L 7.28 -2.88 L 7.02 -3.51 L 6.70 -4.09 L 6.32 -4.61 L 5.88 -5.08 L 5.37 -5.49 L 4.80 -5.85 L 4.18 -6.15 L 3.49 -6.39" fill="none" stroke="#fdfdfd" stroke-width="2.52" stroke-linecap="round" stroke-linejoin="round"/><rect x="-3.42" y="-3.13" width="7.41" height="6.74" rx="2.75" fill="#fdfdfd"/></svg>
<span class="t" style="left:479.8px;top:1124.00px;font-size:14.4px;line-height:14.4px;color:#666;font-weight:700;">Feature Usage Status</span>
<div style="left:651px;top:1117.2px;width:193.4px;height:25.8px;background:linear-gradient(#f6f6f6 0%,#f1f1f1 48%,#e9e9e9 52%,#ececec 100%);border:1px solid #dcdcdc;border-radius:4px 4px 0 0;"></div>
<svg style="left:708.6px;top:1119.1999999999998px;" width="22.799999999999997" height="22.799999999999997" viewBox="-11.399999999999999 -11.399999999999999 22.799999999999997 22.799999999999997"><path d="M -7.59 1.40 L -7.47 2.18 L -7.28 2.88 L -7.02 3.51 L -6.70 4.09 L -6.32 4.61 L -5.88 5.08 L -5.37 5.49 L -4.80 5.85 L -4.18 6.15 L -3.49 6.39 L -2.73 6.58 L -1.88 6.71 L -0.91 6.78 L 0.52 6.79 L 1.58 6.74 L 2.46 6.63 L 3.24 6.46 L 3.95 6.24 L 4.60 5.95 L 5.19 5.61 L 5.71 5.22 L 6.18 4.77 L 6.58 4.27 L 6.92 3.71 L 7.20 3.10 L 7.41 2.42 L 7.55 1.67 L 7.63 0.81 L 7.64 -0.46 L 7.59 -1.40 L 7.47 -2.18 L 7.28 -2.88 L 7.02 -3.51 L 6.70 -4.09 L 6.32 -4.61 L 5.88 -5.08 L 5.37 -5.49 L 4.80 -5.85 L 4.18 -6.15 L 3.49 -6.39" fill="none" stroke="#fdfdfd" stroke-width="2.52" stroke-linecap="round" stroke-linejoin="round"/><rect x="-3.42" y="-3.13" width="7.41" height="6.74" rx="2.75" fill="#fdfdfd"/></svg>
<span class="t" style="left:736.4px;top:1124.00px;font-size:14.4px;line-height:14.4px;color:#666;font-weight:700;">Alerts</span>
<div style="left:1906.4px;top:1122px;width:1px;height:17px;background:#e2e2e2;"></div>
<svg style="left:1922.2px;top:1121px;" width="27" height="18" viewBox="0 0 27 18"><rect x="0" y="0" width="26.8" height="17.8" rx="1.6" fill="#050505"/><path d="M 1 1.2 L 13.4 10.6 L 25.8 1.2" fill="none" stroke="#b8b8b8" stroke-width="1.1"/><path d="M 1 16.8 L 10 8.2 M 25.8 16.8 L 16.8 8.2" stroke="#b8b8b8" stroke-width="1.0"/></svg>
<span class="t" style="left:1969.3px;top:1123.00px;font-size:15.6px;line-height:15.6px;color:#3b4754;">7:07 PM</span>
</div></body></html>
